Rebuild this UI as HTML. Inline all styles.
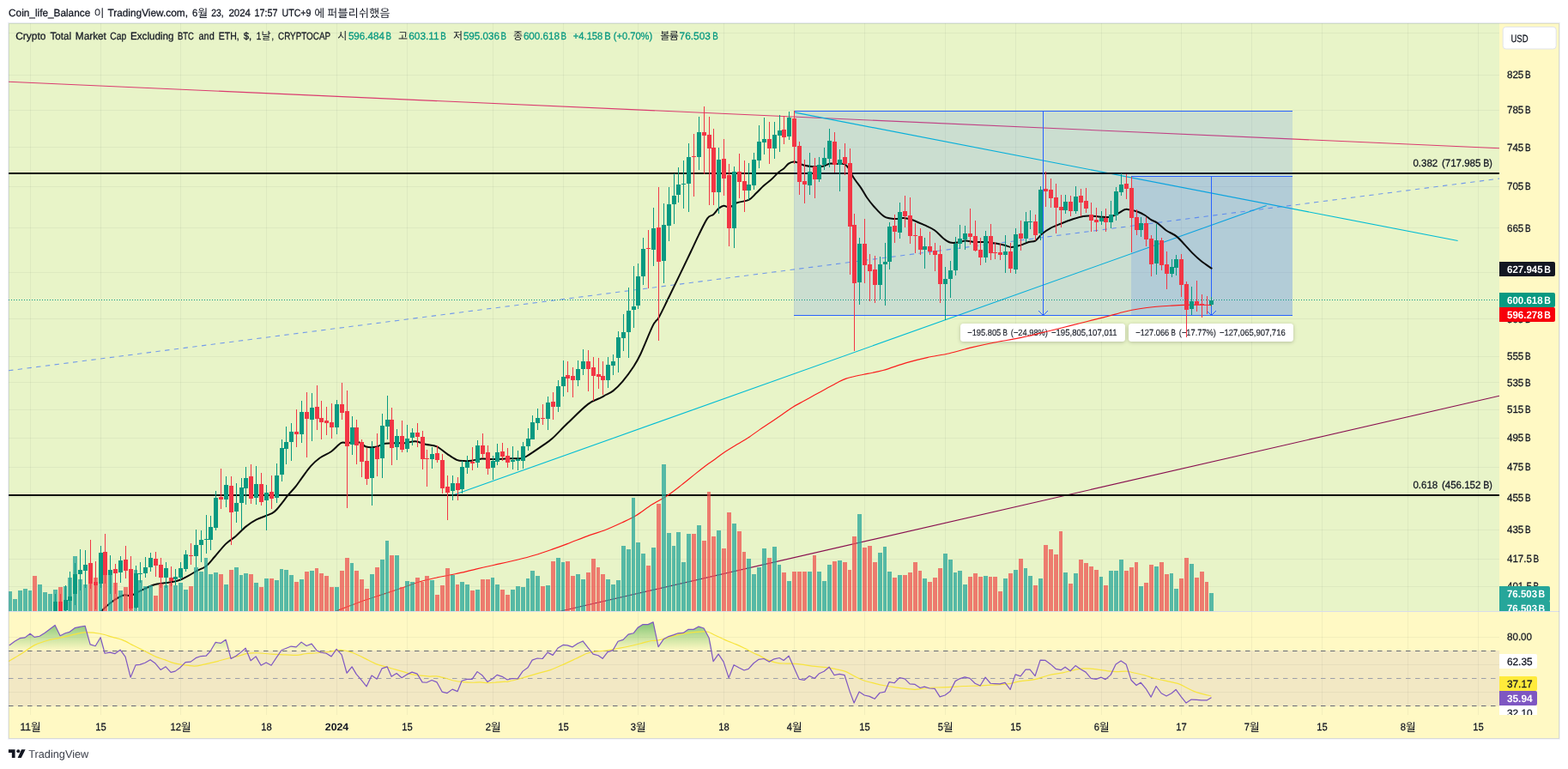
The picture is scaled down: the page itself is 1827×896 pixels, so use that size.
<!DOCTYPE html><html><head><meta charset="utf-8"><title>chart</title><style>html,body{margin:0;padding:0;background:#fff}svg{display:block;will-change:transform}text{font-family:"Liberation Sans", sans-serif;white-space:pre;text-rendering:geometricPrecision}text.k{font-family:"Liberation Sans", "Noto Sans CJK KR", sans-serif}</style></head><body>
<svg width="1827" height="896" viewBox="0 0 1827 896">
<defs>
<clipPath id="cm"><rect x="10" y="27" width="1737" height="685"/></clipPath>
<clipPath id="cr"><rect x="10" y="713" width="1737" height="120"/></clipPath>
<clipPath id="cs"><rect x="1747" y="27" width="70" height="685"/></clipPath>
<clipPath id="cs2"><rect x="1747" y="713" width="70" height="120"/></clipPath>
<linearGradient id="gob" x1="0" y1="710" x2="0" y2="758" gradientUnits="userSpaceOnUse"><stop offset="0" stop-color="#4caf50" stop-opacity="1"/><stop offset="1" stop-color="#4caf50" stop-opacity="0"/></linearGradient>
</defs>
<rect width="1827" height="896" fill="#fff"/>
<rect x="9" y="26" width="1808.8" height="835.5" fill="#eceef6"/>
<rect x="10" y="27" width="1806.7" height="833.3" fill="#fff9c4"/>
<rect x="10" y="27" width="1737" height="685" fill="#e8f4c8"/>
<g shape-rendering="crispEdges" fill="rgba(42,46,57,0.055)">
<rect x="35" y="27" width="1" height="685"/>
<rect x="35" y="713" width="1" height="120"/>
<rect x="117" y="27" width="1" height="685"/>
<rect x="117" y="713" width="1" height="120"/>
<rect x="210" y="27" width="1" height="685"/>
<rect x="210" y="713" width="1" height="120"/>
<rect x="310" y="27" width="1" height="685"/>
<rect x="310" y="713" width="1" height="120"/>
<rect x="392" y="27" width="1" height="685"/>
<rect x="392" y="713" width="1" height="120"/>
<rect x="474" y="27" width="1" height="685"/>
<rect x="474" y="713" width="1" height="120"/>
<rect x="574" y="27" width="1" height="685"/>
<rect x="574" y="713" width="1" height="120"/>
<rect x="656" y="27" width="1" height="685"/>
<rect x="656" y="713" width="1" height="120"/>
<rect x="743" y="27" width="1" height="685"/>
<rect x="743" y="713" width="1" height="120"/>
<rect x="843" y="27" width="1" height="685"/>
<rect x="843" y="713" width="1" height="120"/>
<rect x="925" y="27" width="1" height="685"/>
<rect x="925" y="713" width="1" height="120"/>
<rect x="1007" y="27" width="1" height="685"/>
<rect x="1007" y="713" width="1" height="120"/>
<rect x="1101" y="27" width="1" height="685"/>
<rect x="1101" y="713" width="1" height="120"/>
<rect x="1183" y="27" width="1" height="685"/>
<rect x="1183" y="713" width="1" height="120"/>
<rect x="1283" y="27" width="1" height="685"/>
<rect x="1283" y="713" width="1" height="120"/>
<rect x="1376" y="27" width="1" height="685"/>
<rect x="1376" y="713" width="1" height="120"/>
<rect x="1458" y="27" width="1" height="685"/>
<rect x="1458" y="713" width="1" height="120"/>
<rect x="1540" y="27" width="1" height="685"/>
<rect x="1540" y="713" width="1" height="120"/>
<rect x="1640" y="27" width="1" height="685"/>
<rect x="1640" y="713" width="1" height="120"/>
<rect x="1722" y="27" width="1" height="685"/>
<rect x="1722" y="713" width="1" height="120"/>
<rect x="10" y="38" width="1737" height="1"/>
<rect x="10" y="87" width="1737" height="1"/>
<rect x="10" y="128" width="1737" height="1"/>
<rect x="10" y="171" width="1737" height="1"/>
<rect x="10" y="217" width="1737" height="1"/>
<rect x="10" y="265" width="1737" height="1"/>
<rect x="10" y="317" width="1737" height="1"/>
<rect x="10" y="371" width="1737" height="1"/>
<rect x="10" y="415" width="1737" height="1"/>
<rect x="10" y="445" width="1737" height="1"/>
<rect x="10" y="477" width="1737" height="1"/>
<rect x="10" y="510" width="1737" height="1"/>
<rect x="10" y="544" width="1737" height="1"/>
<rect x="10" y="579" width="1737" height="1"/>
<rect x="10" y="617" width="1737" height="1"/>
<rect x="10" y="651" width="1737" height="1"/>
<rect x="10" y="683" width="1737" height="1"/>
<rect x="10" y="742" width="1737" height="1"/>
<rect x="10" y="774" width="1737" height="1"/>
<rect x="10" y="806" width="1737" height="1"/>
</g>
<g clip-path="url(#cm)">
<line x1="10" y1="95.3" x2="1747" y2="172.7" stroke="#d81b60" stroke-width="1.1" opacity="0.85"/>
<line x1="10" y1="431.8" x2="1747" y2="208.1" stroke="#2962ff" stroke-width="1.1" stroke-dasharray="5.4 5.4" opacity="0.6"/>
<line x1="653.4" y1="712" x2="1747" y2="461.3" stroke="#880e4f" stroke-width="1.1"/>
<line x1="527" y1="577.3" x2="1475.7" y2="239.5" stroke="#00bcd4" stroke-width="1.1"/>
<line x1="925.4" y1="130.9" x2="1698.6" y2="280.5" stroke="#00bcd4" stroke-width="1.1"/>
<rect x="10" y="201" width="1737" height="2" fill="#000" shape-rendering="crispEdges"/>
<rect x="10" y="576" width="1737" height="2" fill="#000" shape-rendering="crispEdges"/>
<text x="1646.4" y="193.9" font-size="12" fill="#131722" stroke="#131722" stroke-width="0.28" textLength="28.8" lengthAdjust="spacingAndGlyphs">0.382</text>
<text x="1680" y="193.9" font-size="12" fill="#131722" stroke="#131722" stroke-width="0.28" textLength="45.4" lengthAdjust="spacingAndGlyphs">(717.985</text>
<text x="1728.2" y="193.9" font-size="12" fill="#131722" stroke="#131722" stroke-width="0.28" textLength="10.6" lengthAdjust="spacingAndGlyphs">B)</text>
<text x="1646.4" y="568.9" font-size="12" fill="#131722" stroke="#131722" stroke-width="0.28" textLength="28.8" lengthAdjust="spacingAndGlyphs">0.618</text>
<text x="1680" y="568.9" font-size="12" fill="#131722" stroke="#131722" stroke-width="0.28" textLength="45.4" lengthAdjust="spacingAndGlyphs">(456.152</text>
<text x="1728.2" y="568.9" font-size="12" fill="#131722" stroke="#131722" stroke-width="0.28" textLength="10.6" lengthAdjust="spacingAndGlyphs">B)</text>
<rect x="925" y="129" width="581" height="239" fill="rgba(41,98,255,0.15)"/>
<rect x="1318" y="205" width="188" height="163" fill="rgba(41,98,255,0.15)"/>
<g shape-rendering="crispEdges" fill="#2962ff">
<rect x="925" y="129" width="581" height="1"/><rect x="925" y="367" width="581" height="1"/>
<rect x="1318" y="205" width="188" height="1"/>
<rect x="1215" y="129" width="1" height="239"/><rect x="1411" y="205" width="1" height="163"/>
</g>
<path d="M1210 362 L1215.5 367.5 L1221 362 M1406 362 L1411.5 367.5 L1417 362" fill="none" stroke="#2962ff" stroke-width="1"/>
<rect x="1119" y="377" width="192" height="21" rx="3.5" fill="#fff" style="filter:drop-shadow(0 1px 2px rgba(0,0,0,0.22))"/>
<text x="1127.2" y="391.3" font-size="10.4" fill="#131722" stroke="#131722" stroke-width="0.12" textLength="39.1" lengthAdjust="spacingAndGlyphs">−195.805</text>
<text x="1168.6" y="391.3" font-size="10.4" fill="#131722" stroke="#131722" stroke-width="0.12" textLength="5.4" lengthAdjust="spacingAndGlyphs">B</text>
<text x="1177.8" y="391.3" font-size="10.4" fill="#131722" stroke="#131722" stroke-width="0.12" textLength="43.1" lengthAdjust="spacingAndGlyphs">(−24.98%)</text>
<text x="1224.9" y="391.3" font-size="10.4" fill="#131722" stroke="#131722" stroke-width="0.12" textLength="76.8" lengthAdjust="spacingAndGlyphs">−195,805,107,011</text>
<rect x="1315" y="377" width="192" height="21" rx="3.5" fill="#fff" style="filter:drop-shadow(0 1px 2px rgba(0,0,0,0.22))"/>
<text x="1323.2" y="391.3" font-size="10.4" fill="#131722" stroke="#131722" stroke-width="0.12" textLength="39.1" lengthAdjust="spacingAndGlyphs">−127.066</text>
<text x="1364.6" y="391.3" font-size="10.4" fill="#131722" stroke="#131722" stroke-width="0.12" textLength="5.4" lengthAdjust="spacingAndGlyphs">B</text>
<text x="1373.8" y="391.3" font-size="10.4" fill="#131722" stroke="#131722" stroke-width="0.12" textLength="43.1" lengthAdjust="spacingAndGlyphs">(−17.77%)</text>
<text x="1420.9" y="391.3" font-size="10.4" fill="#131722" stroke="#131722" stroke-width="0.12" textLength="76.8" lengthAdjust="spacingAndGlyphs">−127,065,907,716</text>
<path d="M391.3 712.1 C396.17 710.25 411.33 704.28 420.5 701 C429.67 697.72 437.72 695.27 446.3 692.4 C454.88 689.53 464.85 686.23 472 683.8 C479.15 681.37 483.47 679.52 489.2 677.8 C494.93 676.08 499.53 675 506.4 673.5 C513.27 672 522.38 670.53 530.4 668.8 C538.42 667.07 547.05 664.82 554.5 663.1 C561.95 661.38 567.07 660.3 575.1 658.5 C583.13 656.7 594.67 654.25 602.7 652.3 C610.73 650.35 616.43 648.87 623.3 646.8 C630.17 644.73 637.6 642.1 643.9 639.9 C650.2 637.7 653.93 636.32 661.1 633.6 C668.27 630.88 679.75 626.2 686.9 623.6 C694.05 621 697.73 620.43 704 618 C710.27 615.57 718.33 611.87 724.5 609 C730.67 606.13 735.18 604.28 741 600.8 C746.82 597.32 753.25 592.03 759.4 588.1 C765.55 584.17 772.08 581.07 777.9 577.2 C783.72 573.33 788.82 569.17 794.3 564.9 C799.78 560.63 805.67 555.67 810.8 551.6 C815.93 547.53 821.62 543.1 825.1 540.5 C828.58 537.9 828.67 538.17 831.7 536 C834.73 533.83 838.78 530.53 843.3 527.5 C847.82 524.47 854.05 520.72 858.8 517.8 C863.55 514.88 867.48 512.82 871.8 510 C876.12 507.18 880.38 503.85 884.7 500.9 C889.02 497.95 893.38 495.2 897.7 492.3 C902.02 489.4 906.28 486.48 910.6 483.5 C914.92 480.52 919.28 477.1 923.6 474.4 C927.92 471.7 932.18 469.68 936.5 467.3 C940.82 464.92 945.18 462.48 949.5 460.1 C953.82 457.72 958.08 455.37 962.4 453 C966.72 450.63 971.5 447.88 975.4 445.9 C979.3 443.92 981.7 442.5 985.8 441.1 C989.9 439.7 996.57 438.3 1000 437.5 C1003.43 436.7 1001.6 437.3 1006.4 436.3 C1011.2 435.3 1020.48 433.78 1028.8 431.5 C1037.12 429.22 1047.72 425.08 1056.3 422.6 C1064.88 420.12 1072 418.42 1080.3 416.6 C1088.6 414.78 1097.5 413.65 1106.1 411.7 C1114.7 409.75 1123.3 406.98 1131.9 404.9 C1140.5 402.82 1149.1 400.92 1157.7 399.2 C1166.3 397.48 1176.45 395.95 1183.5 394.6 C1190.55 393.25 1196.4 391.88 1200 391.1 C1203.6 390.32 1201.43 390.8 1205.1 389.9 C1208.77 389 1216.17 387.15 1222 385.7 C1227.83 384.25 1234.27 382.65 1240.1 381.2 C1245.93 379.75 1251.15 378.47 1257 377 C1262.85 375.53 1269.25 373.9 1275.2 372.4 C1281.15 370.9 1286.87 369.52 1292.7 368 C1298.53 366.48 1304.37 364.67 1310.2 363.3 C1316.03 361.93 1321.87 360.77 1327.7 359.8 C1333.53 358.83 1339.37 358.08 1345.2 357.5 C1351.03 356.92 1356.85 356.65 1362.7 356.3 C1368.55 355.95 1374.08 355.58 1380.3 355.4 C1386.52 355.22 1394.8 355.17 1400 355.2 C1405.2 355.23 1409.58 355.53 1411.5 355.6" fill="none" stroke="#fa1c1c" stroke-width="1.15" stroke-linejoin="round" stroke-linecap="round"/>
<path d="M118 712.1 C119.72 710.53 124.87 705.42 128.3 702.7 C131.73 699.98 135.73 697.38 138.6 695.8 C141.47 694.22 143.2 693.48 145.5 693.2 C147.8 692.92 150.1 694.52 152.4 694.1 C154.7 693.68 156.43 692.13 159.3 690.7 C162.17 689.27 166.17 687.08 169.6 685.5 C173.03 683.92 176.47 682.2 179.9 681.2 C183.33 680.2 186.47 680.07 190.2 679.5 C193.93 678.93 198.85 678.52 202.3 677.8 C205.75 677.08 208.03 676.35 210.9 675.2 C213.77 674.05 216.35 672.62 219.5 670.9 C222.65 669.18 226.38 666.77 229.8 664.9 C233.22 663.03 236.58 662.43 240 659.7 C243.42 656.97 246.43 652.85 250.3 648.5 C254.17 644.15 259.18 637.52 263.2 633.6 C267.22 629.68 270.53 628.33 274.4 625 C278.27 621.67 282.4 616.83 286.4 613.6 C290.4 610.37 293.53 608.08 298.4 605.6 C303.27 603.12 311.58 600.72 315.6 598.7 C319.62 596.68 319.05 597.25 322.5 593.5 C325.95 589.75 332.57 580.72 336.3 576.2 C340.03 571.68 342.33 569.62 344.9 566.4 C347.47 563.18 348.83 560.78 351.7 556.9 C354.57 553.02 358.65 546.97 362.1 543.1 C365.55 539.23 368.4 536.55 372.4 533.7 C376.4 530.85 381.95 528.92 386.1 526 C390.25 523.08 394.28 517.83 397.3 516.2 C400.32 514.57 400.62 516.3 404.2 516.2 C407.78 516.1 415.08 514.88 418.8 515.6 C422.52 516.32 423.35 519.63 426.5 520.5 C429.65 521.37 433.97 521.42 437.7 520.8 C441.43 520.18 444.6 517.57 448.9 516.8 C453.2 516.03 459.65 516.3 463.5 516.2 C467.35 516.1 468.58 516.52 472 516.2 C475.42 515.88 479.98 514.05 484 514.3 C488.02 514.55 491.93 516.7 496.1 517.7 C500.27 518.7 504.85 518.43 509 520.3 C513.15 522.17 517.13 526.32 521 528.9 C524.87 531.48 528.9 534.43 532.2 535.8 C535.5 537.17 537.93 536.93 540.8 537.1 C543.67 537.27 545.97 537.22 549.4 536.8 C552.83 536.38 557.12 534.88 561.4 534.6 C565.68 534.32 569.95 535.17 575.1 535.1 C580.25 535.03 587.13 534.35 592.3 534.2 C597.47 534.05 602.65 534.57 606.1 534.2 C609.55 533.83 608.7 534.47 613 532 C617.3 529.53 626.75 522.98 631.9 519.4 C637.05 515.82 639.03 514.85 643.9 510.5 C648.77 506.15 654.22 499.9 661.1 493.3 C667.98 486.7 678.62 475.92 685.2 470.9 C691.78 465.88 697.13 465.02 700.6 463.2 C704.07 461.38 703.7 461.3 706 460 C708.3 458.7 711.15 458.02 714.4 455.4 C717.65 452.78 721.48 449.08 725.5 444.3 C729.52 439.52 735 432.05 738.5 426.7 C742 421.35 742.8 420.08 746.5 412.2 C750.2 404.32 757.18 386.45 760.7 379.4 C764.22 372.35 764.73 374.92 767.6 369.9 C770.47 364.88 774.17 356.88 777.9 349.3 C781.63 341.72 785.55 333.62 790 324.4 C794.45 315.18 800.6 302.38 804.6 294 C808.6 285.62 810.72 280.72 814 274.1 C817.28 267.48 821.43 258.32 824.3 254.3 C827.17 250.28 829.05 251.87 831.2 250 C833.35 248.13 835.2 244.82 837.2 243.1 C839.2 241.38 841.05 239.98 843.2 239.7 C845.35 239.42 847.52 241.97 850.1 241.4 C852.68 240.83 854.97 237.73 858.7 236.3 C862.43 234.87 868.77 234.67 872.5 232.8 C876.23 230.93 878.23 227.82 881.1 225.1 C883.97 222.38 886.83 219.08 889.7 216.5 C892.57 213.92 895.43 212.18 898.3 209.6 C901.17 207.02 904.33 203.28 906.9 201 C909.47 198.72 911.7 197.62 913.7 195.9 C915.7 194.18 917.03 191.92 918.9 190.7 C920.77 189.48 922.9 188.72 924.9 188.6 C926.9 188.48 928.95 189.35 930.9 190 C932.85 190.65 933.82 191.8 936.6 192.5 C939.38 193.2 943.9 194 947.6 194.2 C951.3 194.4 955.65 194.28 958.8 193.7 C961.95 193.12 963.92 191.13 966.5 190.7 C969.08 190.27 971.43 191.03 974.3 191.1 C977.17 191.17 981.27 190.25 983.7 191.1 C986.13 191.95 987.08 193.55 988.9 196.2 C990.72 198.85 992.17 203.13 994.6 207 C997.03 210.87 1000.93 215.57 1003.5 219.4 C1006.07 223.23 1007.52 226.45 1010 230 C1012.48 233.55 1014.98 236.97 1018.4 240.7 C1021.82 244.43 1026.48 250.02 1030.5 252.4 C1034.52 254.78 1038.78 254.73 1042.5 255 C1046.22 255.27 1049.37 253.8 1052.8 254 C1056.23 254.2 1059.08 254.83 1063.1 256.2 C1067.12 257.57 1072.6 260.2 1076.9 262.2 C1081.2 264.2 1085.18 265.62 1088.9 268.2 C1092.62 270.78 1096.18 275.32 1099.2 277.7 C1102.22 280.08 1104.13 281.7 1107 282.5 C1109.87 283.3 1113.4 282.82 1116.4 282.5 C1119.4 282.18 1121.85 280.68 1125 280.6 C1128.15 280.52 1131.57 281.77 1135.3 282 C1139.03 282.23 1143.67 281.78 1147.4 282 C1151.13 282.22 1153.98 282.73 1157.7 283.3 C1161.42 283.87 1166.27 284.62 1169.7 285.4 C1173.13 286.18 1175.15 287.92 1178.3 288 C1181.45 288.08 1185.22 286.9 1188.6 285.9 C1191.98 284.9 1195.65 282.88 1198.6 282 C1201.55 281.12 1203.72 282.18 1206.3 280.6 C1208.88 279.02 1211.08 275 1214.1 272.5 C1217.12 270 1220.68 267.6 1224.4 265.6 C1228.12 263.6 1232.1 262.22 1236.4 260.5 C1240.7 258.78 1245.9 256.73 1250.2 255.3 C1254.5 253.87 1258.77 252.53 1262.2 251.9 C1265.63 251.27 1267.37 251.37 1270.8 251.5 C1274.23 251.63 1279.08 252.5 1282.8 252.7 C1286.52 252.9 1289.95 253.27 1293.1 252.7 C1296.25 252.13 1298.83 250.72 1301.7 249.3 C1304.57 247.88 1308 245.05 1310.3 244.2 C1312.6 243.35 1312.92 243.78 1315.5 244.2 C1318.08 244.62 1322.65 245.57 1325.8 246.7 C1328.95 247.83 1331.82 249.42 1334.4 251 C1336.98 252.58 1339 254.77 1341.3 256.2 C1343.6 257.63 1345.33 257.6 1348.2 259.6 C1351.07 261.6 1354.78 265.62 1358.5 268.2 C1362.22 270.78 1367.07 272.52 1370.5 275.1 C1373.93 277.68 1375.95 280.4 1379.1 283.7 C1382.25 287 1385.97 291.47 1389.4 294.9 C1392.83 298.33 1396 301.35 1399.7 304.3 C1403.4 307.25 1409.62 311.22 1411.6 312.6" fill="none" stroke="#0c0c0c" stroke-width="2.0" stroke-linejoin="round" stroke-linecap="round"/>
<g shape-rendering="crispEdges">
<rect x="9" y="689" width="5" height="23" fill="rgba(38,166,154,0.75)"/>
<rect x="15" y="698" width="5" height="14" fill="rgba(38,166,154,0.75)"/>
<rect x="21" y="688" width="5" height="24" fill="rgba(38,166,154,0.75)"/>
<rect x="27" y="686" width="5" height="26" fill="rgba(38,166,154,0.75)"/>
<rect x="33" y="688" width="4" height="24" fill="rgba(38,166,154,0.75)"/>
<rect x="38" y="671" width="5" height="41" fill="rgba(239,83,80,0.75)"/>
<rect x="44" y="681" width="5" height="31" fill="rgba(38,166,154,0.75)"/>
<rect x="50" y="690" width="5" height="22" fill="rgba(38,166,154,0.75)"/>
<rect x="56" y="692" width="5" height="20" fill="rgba(38,166,154,0.75)"/>
<rect x="62" y="687" width="5" height="25" fill="rgba(38,166,154,0.75)"/>
<rect x="68" y="684" width="5" height="28" fill="rgba(239,83,80,0.75)"/>
<rect x="74" y="683" width="4" height="29" fill="rgba(38,166,154,0.75)"/>
<rect x="79" y="673" width="5" height="39" fill="rgba(38,166,154,0.75)"/>
<rect x="85" y="648" width="5" height="64" fill="rgba(38,166,154,0.75)"/>
<rect x="91" y="675" width="5" height="37" fill="rgba(38,166,154,0.75)"/>
<rect x="97" y="681" width="5" height="31" fill="rgba(38,166,154,0.75)"/>
<rect x="103" y="680" width="5" height="32" fill="rgba(239,83,80,0.75)"/>
<rect x="109" y="673" width="5" height="39" fill="rgba(239,83,80,0.75)"/>
<rect x="115" y="680" width="4" height="32" fill="rgba(38,166,154,0.75)"/>
<rect x="120" y="670" width="5" height="42" fill="rgba(239,83,80,0.75)"/>
<rect x="126" y="670" width="5" height="42" fill="rgba(38,166,154,0.75)"/>
<rect x="132" y="679" width="5" height="33" fill="rgba(239,83,80,0.75)"/>
<rect x="138" y="688" width="5" height="24" fill="rgba(38,166,154,0.75)"/>
<rect x="144" y="684" width="5" height="28" fill="rgba(239,83,80,0.75)"/>
<rect x="150" y="664" width="5" height="48" fill="rgba(239,83,80,0.75)"/>
<rect x="156" y="664" width="4" height="48" fill="rgba(38,166,154,0.75)"/>
<rect x="161" y="676" width="5" height="36" fill="rgba(38,166,154,0.75)"/>
<rect x="167" y="683" width="5" height="29" fill="rgba(38,166,154,0.75)"/>
<rect x="173" y="682" width="5" height="30" fill="rgba(38,166,154,0.75)"/>
<rect x="179" y="694" width="5" height="18" fill="rgba(239,83,80,0.75)"/>
<rect x="185" y="680" width="5" height="32" fill="rgba(239,83,80,0.75)"/>
<rect x="191" y="682" width="5" height="30" fill="rgba(38,166,154,0.75)"/>
<rect x="197" y="679" width="4" height="33" fill="rgba(239,83,80,0.75)"/>
<rect x="202" y="682" width="5" height="30" fill="rgba(38,166,154,0.75)"/>
<rect x="208" y="679" width="5" height="33" fill="rgba(38,166,154,0.75)"/>
<rect x="214" y="687" width="5" height="25" fill="rgba(38,166,154,0.75)"/>
<rect x="220" y="683" width="5" height="29" fill="rgba(239,83,80,0.75)"/>
<rect x="226" y="661" width="5" height="51" fill="rgba(38,166,154,0.75)"/>
<rect x="232" y="666" width="5" height="46" fill="rgba(38,166,154,0.75)"/>
<rect x="238" y="650" width="4" height="62" fill="rgba(38,166,154,0.75)"/>
<rect x="243" y="669" width="5" height="43" fill="rgba(38,166,154,0.75)"/>
<rect x="249" y="667" width="5" height="45" fill="rgba(38,166,154,0.75)"/>
<rect x="255" y="669" width="5" height="43" fill="rgba(239,83,80,0.75)"/>
<rect x="261" y="681" width="5" height="31" fill="rgba(38,166,154,0.75)"/>
<rect x="267" y="664" width="5" height="48" fill="rgba(239,83,80,0.75)"/>
<rect x="273" y="661" width="5" height="51" fill="rgba(38,166,154,0.75)"/>
<rect x="279" y="670" width="4" height="42" fill="rgba(38,166,154,0.75)"/>
<rect x="284" y="668" width="5" height="44" fill="rgba(38,166,154,0.75)"/>
<rect x="290" y="669" width="5" height="43" fill="rgba(239,83,80,0.75)"/>
<rect x="296" y="679" width="5" height="33" fill="rgba(38,166,154,0.75)"/>
<rect x="302" y="684" width="5" height="28" fill="rgba(239,83,80,0.75)"/>
<rect x="308" y="674" width="5" height="38" fill="rgba(38,166,154,0.75)"/>
<rect x="314" y="674" width="5" height="38" fill="rgba(239,83,80,0.75)"/>
<rect x="320" y="676" width="5" height="36" fill="rgba(38,166,154,0.75)"/>
<rect x="326" y="663" width="4" height="49" fill="rgba(38,166,154,0.75)"/>
<rect x="331" y="664" width="5" height="48" fill="rgba(38,166,154,0.75)"/>
<rect x="337" y="670" width="5" height="42" fill="rgba(38,166,154,0.75)"/>
<rect x="343" y="678" width="5" height="34" fill="rgba(239,83,80,0.75)"/>
<rect x="349" y="675" width="5" height="37" fill="rgba(38,166,154,0.75)"/>
<rect x="355" y="666" width="5" height="46" fill="rgba(239,83,80,0.75)"/>
<rect x="361" y="665" width="5" height="47" fill="rgba(38,166,154,0.75)"/>
<rect x="367" y="662" width="4" height="50" fill="rgba(239,83,80,0.75)"/>
<rect x="372" y="668" width="5" height="44" fill="rgba(239,83,80,0.75)"/>
<rect x="378" y="671" width="5" height="41" fill="rgba(239,83,80,0.75)"/>
<rect x="384" y="684" width="5" height="28" fill="rgba(239,83,80,0.75)"/>
<rect x="390" y="684" width="5" height="28" fill="rgba(38,166,154,0.75)"/>
<rect x="396" y="665" width="5" height="47" fill="rgba(239,83,80,0.75)"/>
<rect x="402" y="650" width="5" height="62" fill="rgba(239,83,80,0.75)"/>
<rect x="408" y="656" width="4" height="56" fill="rgba(38,166,154,0.75)"/>
<rect x="413" y="665" width="5" height="47" fill="rgba(239,83,80,0.75)"/>
<rect x="419" y="675" width="5" height="37" fill="rgba(239,83,80,0.75)"/>
<rect x="425" y="686" width="5" height="26" fill="rgba(239,83,80,0.75)"/>
<rect x="431" y="669" width="5" height="43" fill="rgba(38,166,154,0.75)"/>
<rect x="437" y="661" width="5" height="51" fill="rgba(239,83,80,0.75)"/>
<rect x="443" y="652" width="5" height="60" fill="rgba(38,166,154,0.75)"/>
<rect x="449" y="630" width="4" height="82" fill="rgba(38,166,154,0.75)"/>
<rect x="454" y="647" width="5" height="65" fill="rgba(239,83,80,0.75)"/>
<rect x="460" y="647" width="5" height="65" fill="rgba(38,166,154,0.75)"/>
<rect x="466" y="684" width="5" height="28" fill="rgba(239,83,80,0.75)"/>
<rect x="472" y="677" width="5" height="35" fill="rgba(38,166,154,0.75)"/>
<rect x="478" y="678" width="5" height="34" fill="rgba(38,166,154,0.75)"/>
<rect x="484" y="673" width="5" height="39" fill="rgba(239,83,80,0.75)"/>
<rect x="490" y="678" width="4" height="34" fill="rgba(239,83,80,0.75)"/>
<rect x="495" y="671" width="5" height="41" fill="rgba(239,83,80,0.75)"/>
<rect x="501" y="676" width="5" height="36" fill="rgba(38,166,154,0.75)"/>
<rect x="507" y="693" width="5" height="19" fill="rgba(239,83,80,0.75)"/>
<rect x="513" y="682" width="5" height="30" fill="rgba(239,83,80,0.75)"/>
<rect x="519" y="662" width="5" height="50" fill="rgba(239,83,80,0.75)"/>
<rect x="525" y="670" width="5" height="42" fill="rgba(38,166,154,0.75)"/>
<rect x="531" y="681" width="4" height="31" fill="rgba(239,83,80,0.75)"/>
<rect x="536" y="678" width="5" height="34" fill="rgba(38,166,154,0.75)"/>
<rect x="542" y="681" width="5" height="31" fill="rgba(38,166,154,0.75)"/>
<rect x="548" y="688" width="5" height="24" fill="rgba(239,83,80,0.75)"/>
<rect x="554" y="687" width="5" height="25" fill="rgba(38,166,154,0.75)"/>
<rect x="560" y="675" width="5" height="37" fill="rgba(239,83,80,0.75)"/>
<rect x="566" y="675" width="5" height="37" fill="rgba(239,83,80,0.75)"/>
<rect x="572" y="673" width="4" height="39" fill="rgba(38,166,154,0.75)"/>
<rect x="577" y="681" width="5" height="31" fill="rgba(38,166,154,0.75)"/>
<rect x="583" y="687" width="5" height="25" fill="rgba(239,83,80,0.75)"/>
<rect x="589" y="693" width="5" height="19" fill="rgba(239,83,80,0.75)"/>
<rect x="595" y="687" width="5" height="25" fill="rgba(38,166,154,0.75)"/>
<rect x="601" y="683" width="5" height="29" fill="rgba(38,166,154,0.75)"/>
<rect x="607" y="684" width="5" height="28" fill="rgba(38,166,154,0.75)"/>
<rect x="613" y="674" width="4" height="38" fill="rgba(38,166,154,0.75)"/>
<rect x="618" y="665" width="5" height="47" fill="rgba(38,166,154,0.75)"/>
<rect x="624" y="671" width="5" height="41" fill="rgba(38,166,154,0.75)"/>
<rect x="630" y="683" width="5" height="29" fill="rgba(239,83,80,0.75)"/>
<rect x="636" y="682" width="5" height="30" fill="rgba(38,166,154,0.75)"/>
<rect x="642" y="654" width="5" height="58" fill="rgba(239,83,80,0.75)"/>
<rect x="648" y="650" width="5" height="62" fill="rgba(38,166,154,0.75)"/>
<rect x="654" y="655" width="4" height="57" fill="rgba(38,166,154,0.75)"/>
<rect x="659" y="654" width="5" height="58" fill="rgba(239,83,80,0.75)"/>
<rect x="665" y="671" width="5" height="41" fill="rgba(239,83,80,0.75)"/>
<rect x="671" y="669" width="5" height="43" fill="rgba(38,166,154,0.75)"/>
<rect x="677" y="675" width="5" height="37" fill="rgba(38,166,154,0.75)"/>
<rect x="683" y="667" width="5" height="45" fill="rgba(239,83,80,0.75)"/>
<rect x="689" y="651" width="5" height="61" fill="rgba(239,83,80,0.75)"/>
<rect x="695" y="661" width="4" height="51" fill="rgba(239,83,80,0.75)"/>
<rect x="700" y="669" width="5" height="43" fill="rgba(239,83,80,0.75)"/>
<rect x="706" y="675" width="5" height="37" fill="rgba(38,166,154,0.75)"/>
<rect x="712" y="681" width="5" height="31" fill="rgba(38,166,154,0.75)"/>
<rect x="718" y="676" width="5" height="36" fill="rgba(38,166,154,0.75)"/>
<rect x="724" y="636" width="5" height="76" fill="rgba(38,166,154,0.75)"/>
<rect x="730" y="640" width="5" height="72" fill="rgba(38,166,154,0.75)"/>
<rect x="736" y="580" width="4" height="132" fill="rgba(38,166,154,0.75)"/>
<rect x="741" y="632" width="5" height="80" fill="rgba(38,166,154,0.75)"/>
<rect x="747" y="645" width="5" height="67" fill="rgba(38,166,154,0.75)"/>
<rect x="753" y="659" width="5" height="53" fill="rgba(239,83,80,0.75)"/>
<rect x="759" y="638" width="5" height="74" fill="rgba(38,166,154,0.75)"/>
<rect x="765" y="587" width="5" height="125" fill="rgba(239,83,80,0.75)"/>
<rect x="771" y="541" width="5" height="171" fill="rgba(38,166,154,0.75)"/>
<rect x="777" y="621" width="5" height="91" fill="rgba(38,166,154,0.75)"/>
<rect x="783" y="636" width="4" height="76" fill="rgba(38,166,154,0.75)"/>
<rect x="788" y="620" width="5" height="92" fill="rgba(38,166,154,0.75)"/>
<rect x="794" y="655" width="5" height="57" fill="rgba(38,166,154,0.75)"/>
<rect x="800" y="622" width="5" height="90" fill="rgba(38,166,154,0.75)"/>
<rect x="806" y="622" width="5" height="90" fill="rgba(239,83,80,0.75)"/>
<rect x="812" y="612" width="5" height="100" fill="rgba(38,166,154,0.75)"/>
<rect x="818" y="630" width="5" height="82" fill="rgba(239,83,80,0.75)"/>
<rect x="824" y="573" width="4" height="139" fill="rgba(239,83,80,0.75)"/>
<rect x="829" y="625" width="5" height="87" fill="rgba(239,83,80,0.75)"/>
<rect x="835" y="618" width="5" height="94" fill="rgba(38,166,154,0.75)"/>
<rect x="841" y="639" width="5" height="73" fill="rgba(239,83,80,0.75)"/>
<rect x="847" y="597" width="5" height="115" fill="rgba(239,83,80,0.75)"/>
<rect x="853" y="610" width="5" height="102" fill="rgba(38,166,154,0.75)"/>
<rect x="859" y="619" width="5" height="93" fill="rgba(239,83,80,0.75)"/>
<rect x="865" y="643" width="4" height="69" fill="rgba(239,83,80,0.75)"/>
<rect x="870" y="651" width="5" height="61" fill="rgba(38,166,154,0.75)"/>
<rect x="876" y="669" width="5" height="43" fill="rgba(38,166,154,0.75)"/>
<rect x="882" y="661" width="5" height="51" fill="rgba(38,166,154,0.75)"/>
<rect x="888" y="639" width="5" height="73" fill="rgba(38,166,154,0.75)"/>
<rect x="894" y="650" width="5" height="62" fill="rgba(239,83,80,0.75)"/>
<rect x="900" y="637" width="5" height="75" fill="rgba(38,166,154,0.75)"/>
<rect x="906" y="658" width="4" height="54" fill="rgba(38,166,154,0.75)"/>
<rect x="911" y="667" width="5" height="45" fill="rgba(239,83,80,0.75)"/>
<rect x="917" y="677" width="5" height="35" fill="rgba(38,166,154,0.75)"/>
<rect x="923" y="666" width="5" height="46" fill="rgba(239,83,80,0.75)"/>
<rect x="929" y="666" width="5" height="46" fill="rgba(239,83,80,0.75)"/>
<rect x="935" y="666" width="5" height="46" fill="rgba(239,83,80,0.75)"/>
<rect x="941" y="666" width="5" height="46" fill="rgba(38,166,154,0.75)"/>
<rect x="947" y="647" width="4" height="65" fill="rgba(239,83,80,0.75)"/>
<rect x="952" y="666" width="5" height="46" fill="rgba(38,166,154,0.75)"/>
<rect x="958" y="677" width="5" height="35" fill="rgba(38,166,154,0.75)"/>
<rect x="964" y="658" width="5" height="54" fill="rgba(38,166,154,0.75)"/>
<rect x="970" y="654" width="5" height="58" fill="rgba(239,83,80,0.75)"/>
<rect x="976" y="653" width="5" height="59" fill="rgba(38,166,154,0.75)"/>
<rect x="982" y="655" width="5" height="57" fill="rgba(239,83,80,0.75)"/>
<rect x="988" y="664" width="4" height="48" fill="rgba(239,83,80,0.75)"/>
<rect x="993" y="625" width="5" height="87" fill="rgba(239,83,80,0.75)"/>
<rect x="999" y="599" width="5" height="113" fill="rgba(38,166,154,0.75)"/>
<rect x="1005" y="638" width="5" height="74" fill="rgba(239,83,80,0.75)"/>
<rect x="1011" y="636" width="5" height="76" fill="rgba(239,83,80,0.75)"/>
<rect x="1017" y="655" width="5" height="57" fill="rgba(239,83,80,0.75)"/>
<rect x="1023" y="644" width="5" height="68" fill="rgba(38,166,154,0.75)"/>
<rect x="1029" y="637" width="4" height="75" fill="rgba(38,166,154,0.75)"/>
<rect x="1034" y="666" width="5" height="46" fill="rgba(38,166,154,0.75)"/>
<rect x="1040" y="673" width="5" height="39" fill="rgba(239,83,80,0.75)"/>
<rect x="1046" y="670" width="5" height="42" fill="rgba(38,166,154,0.75)"/>
<rect x="1052" y="670" width="5" height="42" fill="rgba(239,83,80,0.75)"/>
<rect x="1058" y="667" width="5" height="45" fill="rgba(239,83,80,0.75)"/>
<rect x="1064" y="655" width="5" height="57" fill="rgba(239,83,80,0.75)"/>
<rect x="1070" y="665" width="4" height="47" fill="rgba(239,83,80,0.75)"/>
<rect x="1075" y="674" width="5" height="38" fill="rgba(38,166,154,0.75)"/>
<rect x="1081" y="678" width="5" height="34" fill="rgba(239,83,80,0.75)"/>
<rect x="1087" y="673" width="5" height="39" fill="rgba(239,83,80,0.75)"/>
<rect x="1093" y="662" width="5" height="50" fill="rgba(239,83,80,0.75)"/>
<rect x="1099" y="645" width="5" height="67" fill="rgba(38,166,154,0.75)"/>
<rect x="1105" y="652" width="5" height="60" fill="rgba(38,166,154,0.75)"/>
<rect x="1111" y="667" width="4" height="45" fill="rgba(38,166,154,0.75)"/>
<rect x="1116" y="665" width="5" height="47" fill="rgba(38,166,154,0.75)"/>
<rect x="1122" y="681" width="5" height="31" fill="rgba(38,166,154,0.75)"/>
<rect x="1128" y="672" width="5" height="40" fill="rgba(239,83,80,0.75)"/>
<rect x="1134" y="668" width="5" height="44" fill="rgba(239,83,80,0.75)"/>
<rect x="1140" y="672" width="5" height="40" fill="rgba(239,83,80,0.75)"/>
<rect x="1146" y="671" width="5" height="41" fill="rgba(38,166,154,0.75)"/>
<rect x="1152" y="672" width="4" height="40" fill="rgba(239,83,80,0.75)"/>
<rect x="1157" y="672" width="5" height="40" fill="rgba(239,83,80,0.75)"/>
<rect x="1163" y="689" width="5" height="23" fill="rgba(239,83,80,0.75)"/>
<rect x="1169" y="674" width="5" height="38" fill="rgba(38,166,154,0.75)"/>
<rect x="1175" y="668" width="5" height="44" fill="rgba(239,83,80,0.75)"/>
<rect x="1181" y="664" width="5" height="48" fill="rgba(38,166,154,0.75)"/>
<rect x="1187" y="651" width="5" height="61" fill="rgba(239,83,80,0.75)"/>
<rect x="1193" y="662" width="4" height="50" fill="rgba(38,166,154,0.75)"/>
<rect x="1198" y="671" width="5" height="41" fill="rgba(38,166,154,0.75)"/>
<rect x="1204" y="682" width="5" height="30" fill="rgba(239,83,80,0.75)"/>
<rect x="1210" y="674" width="5" height="38" fill="rgba(38,166,154,0.75)"/>
<rect x="1216" y="635" width="5" height="77" fill="rgba(239,83,80,0.75)"/>
<rect x="1222" y="640" width="5" height="72" fill="rgba(239,83,80,0.75)"/>
<rect x="1228" y="646" width="5" height="66" fill="rgba(239,83,80,0.75)"/>
<rect x="1234" y="619" width="4" height="93" fill="rgba(239,83,80,0.75)"/>
<rect x="1239" y="667" width="5" height="45" fill="rgba(38,166,154,0.75)"/>
<rect x="1245" y="680" width="5" height="32" fill="rgba(239,83,80,0.75)"/>
<rect x="1251" y="668" width="5" height="44" fill="rgba(38,166,154,0.75)"/>
<rect x="1257" y="652" width="5" height="60" fill="rgba(239,83,80,0.75)"/>
<rect x="1263" y="656" width="5" height="56" fill="rgba(239,83,80,0.75)"/>
<rect x="1269" y="660" width="5" height="52" fill="rgba(239,83,80,0.75)"/>
<rect x="1275" y="664" width="5" height="48" fill="rgba(239,83,80,0.75)"/>
<rect x="1281" y="672" width="4" height="40" fill="rgba(38,166,154,0.75)"/>
<rect x="1286" y="682" width="5" height="30" fill="rgba(239,83,80,0.75)"/>
<rect x="1292" y="665" width="5" height="47" fill="rgba(38,166,154,0.75)"/>
<rect x="1298" y="665" width="5" height="47" fill="rgba(38,166,154,0.75)"/>
<rect x="1304" y="652" width="5" height="60" fill="rgba(38,166,154,0.75)"/>
<rect x="1310" y="665" width="5" height="47" fill="rgba(239,83,80,0.75)"/>
<rect x="1316" y="661" width="5" height="51" fill="rgba(239,83,80,0.75)"/>
<rect x="1322" y="655" width="4" height="57" fill="rgba(239,83,80,0.75)"/>
<rect x="1327" y="683" width="5" height="29" fill="rgba(38,166,154,0.75)"/>
<rect x="1333" y="679" width="5" height="33" fill="rgba(239,83,80,0.75)"/>
<rect x="1339" y="658" width="5" height="54" fill="rgba(239,83,80,0.75)"/>
<rect x="1345" y="660" width="5" height="52" fill="rgba(38,166,154,0.75)"/>
<rect x="1351" y="655" width="5" height="57" fill="rgba(239,83,80,0.75)"/>
<rect x="1357" y="669" width="5" height="43" fill="rgba(239,83,80,0.75)"/>
<rect x="1363" y="668" width="4" height="44" fill="rgba(38,166,154,0.75)"/>
<rect x="1368" y="686" width="5" height="26" fill="rgba(38,166,154,0.75)"/>
<rect x="1374" y="674" width="5" height="38" fill="rgba(239,83,80,0.75)"/>
<rect x="1380" y="650" width="5" height="62" fill="rgba(239,83,80,0.75)"/>
<rect x="1386" y="657" width="5" height="55" fill="rgba(38,166,154,0.75)"/>
<rect x="1392" y="673" width="5" height="39" fill="rgba(239,83,80,0.75)"/>
<rect x="1398" y="666" width="5" height="46" fill="rgba(239,83,80,0.75)"/>
<rect x="1404" y="678" width="4" height="34" fill="rgba(239,83,80,0.75)"/>
<rect x="1409" y="691" width="5" height="21" fill="rgba(38,166,154,0.75)"/>
</g>
<g shape-rendering="crispEdges">
<rect x="64" y="692" width="1" height="38" fill="#089981"/>
<rect x="62" y="701" width="5" height="24" fill="#089981"/>
<rect x="70" y="692" width="1" height="38" fill="#f23645"/>
<rect x="68" y="701" width="5" height="24" fill="#f23645"/>
<rect x="76" y="682" width="1" height="48" fill="#089981"/>
<rect x="74" y="699" width="5" height="12" fill="#089981"/>
<rect x="81" y="666" width="1" height="47" fill="#089981"/>
<rect x="79" y="695" width="5" height="5" fill="#089981"/>
<rect x="87" y="656" width="1" height="49" fill="#089981"/>
<rect x="85" y="669" width="5" height="23" fill="#089981"/>
<rect x="93" y="640" width="1" height="48" fill="#089981"/>
<rect x="91" y="664" width="5" height="5" fill="#089981"/>
<rect x="99" y="641" width="1" height="44" fill="#089981"/>
<rect x="97" y="658" width="5" height="7" fill="#089981"/>
<rect x="105" y="629" width="1" height="57" fill="#f23645"/>
<rect x="103" y="656" width="5" height="24" fill="#f23645"/>
<rect x="111" y="654" width="1" height="56" fill="#f23645"/>
<rect x="109" y="678" width="5" height="4" fill="#f23645"/>
<rect x="117" y="636" width="1" height="49" fill="#089981"/>
<rect x="115" y="644" width="5" height="36" fill="#089981"/>
<rect x="122" y="622" width="1" height="58" fill="#f23645"/>
<rect x="120" y="643" width="5" height="27" fill="#f23645"/>
<rect x="128" y="647" width="1" height="45" fill="#089981"/>
<rect x="126" y="664" width="5" height="6" fill="#089981"/>
<rect x="134" y="657" width="1" height="35" fill="#f23645"/>
<rect x="132" y="663" width="5" height="5" fill="#f23645"/>
<rect x="140" y="648" width="1" height="31" fill="#089981"/>
<rect x="138" y="653" width="5" height="14" fill="#089981"/>
<rect x="146" y="636" width="1" height="38" fill="#f23645"/>
<rect x="144" y="652" width="5" height="13" fill="#f23645"/>
<rect x="152" y="648" width="1" height="63" fill="#f23645"/>
<rect x="150" y="663" width="5" height="46" fill="#f23645"/>
<rect x="158" y="659" width="1" height="50" fill="#089981"/>
<rect x="156" y="668" width="5" height="40" fill="#089981"/>
<rect x="163" y="655" width="1" height="24" fill="#089981"/>
<rect x="161" y="668" width="5" height="1" fill="#089981"/>
<rect x="169" y="649" width="1" height="24" fill="#089981"/>
<rect x="167" y="661" width="5" height="7" fill="#089981"/>
<rect x="175" y="644" width="1" height="22" fill="#089981"/>
<rect x="173" y="650" width="5" height="11" fill="#089981"/>
<rect x="181" y="643" width="1" height="29" fill="#f23645"/>
<rect x="179" y="651" width="5" height="8" fill="#f23645"/>
<rect x="187" y="650" width="1" height="35" fill="#f23645"/>
<rect x="185" y="658" width="5" height="15" fill="#f23645"/>
<rect x="193" y="655" width="1" height="30" fill="#089981"/>
<rect x="191" y="662" width="5" height="11" fill="#089981"/>
<rect x="199" y="660" width="1" height="23" fill="#f23645"/>
<rect x="197" y="673" width="5" height="4" fill="#f23645"/>
<rect x="204" y="663" width="1" height="19" fill="#089981"/>
<rect x="202" y="672" width="5" height="3" fill="#089981"/>
<rect x="210" y="655" width="1" height="22" fill="#089981"/>
<rect x="208" y="662" width="5" height="11" fill="#089981"/>
<rect x="216" y="641" width="1" height="25" fill="#089981"/>
<rect x="214" y="646" width="5" height="17" fill="#089981"/>
<rect x="222" y="633" width="1" height="25" fill="#f23645"/>
<rect x="220" y="647" width="5" height="1" fill="#f23645"/>
<rect x="228" y="617" width="1" height="44" fill="#089981"/>
<rect x="226" y="635" width="5" height="13" fill="#089981"/>
<rect x="234" y="618" width="1" height="37" fill="#089981"/>
<rect x="232" y="629" width="5" height="6" fill="#089981"/>
<rect x="240" y="600" width="1" height="45" fill="#089981"/>
<rect x="238" y="628" width="5" height="1" fill="#089981"/>
<rect x="245" y="601" width="1" height="40" fill="#089981"/>
<rect x="243" y="614" width="5" height="15" fill="#089981"/>
<rect x="251" y="572" width="1" height="46" fill="#089981"/>
<rect x="249" y="580" width="5" height="35" fill="#089981"/>
<rect x="257" y="546" width="1" height="47" fill="#f23645"/>
<rect x="255" y="579" width="5" height="3" fill="#f23645"/>
<rect x="263" y="555" width="1" height="36" fill="#089981"/>
<rect x="261" y="565" width="5" height="17" fill="#089981"/>
<rect x="269" y="555" width="1" height="80" fill="#f23645"/>
<rect x="267" y="566" width="5" height="31" fill="#f23645"/>
<rect x="275" y="563" width="1" height="46" fill="#089981"/>
<rect x="273" y="586" width="5" height="10" fill="#089981"/>
<rect x="281" y="557" width="1" height="60" fill="#089981"/>
<rect x="279" y="568" width="5" height="18" fill="#089981"/>
<rect x="286" y="544" width="1" height="44" fill="#089981"/>
<rect x="284" y="557" width="5" height="12" fill="#089981"/>
<rect x="292" y="541" width="1" height="46" fill="#f23645"/>
<rect x="290" y="555" width="5" height="26" fill="#f23645"/>
<rect x="298" y="543" width="1" height="45" fill="#089981"/>
<rect x="296" y="564" width="5" height="16" fill="#089981"/>
<rect x="304" y="551" width="1" height="38" fill="#f23645"/>
<rect x="302" y="564" width="5" height="21" fill="#f23645"/>
<rect x="310" y="565" width="1" height="53" fill="#089981"/>
<rect x="308" y="574" width="5" height="9" fill="#089981"/>
<rect x="316" y="554" width="1" height="39" fill="#f23645"/>
<rect x="314" y="573" width="5" height="8" fill="#f23645"/>
<rect x="322" y="540" width="1" height="46" fill="#089981"/>
<rect x="320" y="554" width="5" height="26" fill="#089981"/>
<rect x="328" y="512" width="1" height="49" fill="#089981"/>
<rect x="326" y="522" width="5" height="31" fill="#089981"/>
<rect x="333" y="497" width="1" height="44" fill="#089981"/>
<rect x="331" y="515" width="5" height="8" fill="#089981"/>
<rect x="339" y="493" width="1" height="44" fill="#089981"/>
<rect x="337" y="503" width="5" height="12" fill="#089981"/>
<rect x="345" y="477" width="1" height="44" fill="#f23645"/>
<rect x="343" y="503" width="5" height="3" fill="#f23645"/>
<rect x="351" y="467" width="1" height="49" fill="#089981"/>
<rect x="349" y="480" width="5" height="26" fill="#089981"/>
<rect x="357" y="457" width="1" height="76" fill="#f23645"/>
<rect x="355" y="480" width="5" height="8" fill="#f23645"/>
<rect x="363" y="458" width="1" height="56" fill="#089981"/>
<rect x="361" y="475" width="5" height="14" fill="#089981"/>
<rect x="369" y="449" width="1" height="52" fill="#f23645"/>
<rect x="367" y="474" width="5" height="14" fill="#f23645"/>
<rect x="374" y="467" width="1" height="45" fill="#f23645"/>
<rect x="372" y="487" width="5" height="5" fill="#f23645"/>
<rect x="380" y="474" width="1" height="33" fill="#f23645"/>
<rect x="378" y="490" width="5" height="3" fill="#f23645"/>
<rect x="386" y="470" width="1" height="41" fill="#f23645"/>
<rect x="384" y="492" width="5" height="6" fill="#f23645"/>
<rect x="392" y="466" width="1" height="40" fill="#089981"/>
<rect x="390" y="471" width="5" height="27" fill="#089981"/>
<rect x="398" y="446" width="1" height="43" fill="#f23645"/>
<rect x="396" y="471" width="5" height="10" fill="#f23645"/>
<rect x="404" y="455" width="1" height="137" fill="#f23645"/>
<rect x="402" y="479" width="5" height="41" fill="#f23645"/>
<rect x="410" y="485" width="1" height="45" fill="#089981"/>
<rect x="408" y="498" width="5" height="20" fill="#089981"/>
<rect x="415" y="489" width="1" height="52" fill="#f23645"/>
<rect x="413" y="498" width="5" height="21" fill="#f23645"/>
<rect x="421" y="512" width="1" height="44" fill="#f23645"/>
<rect x="419" y="515" width="5" height="23" fill="#f23645"/>
<rect x="427" y="522" width="1" height="43" fill="#f23645"/>
<rect x="425" y="537" width="5" height="21" fill="#f23645"/>
<rect x="433" y="514" width="1" height="75" fill="#089981"/>
<rect x="431" y="522" width="5" height="35" fill="#089981"/>
<rect x="439" y="505" width="1" height="50" fill="#f23645"/>
<rect x="437" y="521" width="5" height="14" fill="#f23645"/>
<rect x="445" y="482" width="1" height="75" fill="#089981"/>
<rect x="443" y="496" width="5" height="38" fill="#089981"/>
<rect x="451" y="461" width="1" height="51" fill="#089981"/>
<rect x="449" y="489" width="5" height="8" fill="#089981"/>
<rect x="456" y="475" width="1" height="67" fill="#f23645"/>
<rect x="454" y="489" width="5" height="33" fill="#f23645"/>
<rect x="462" y="500" width="1" height="36" fill="#089981"/>
<rect x="460" y="508" width="5" height="13" fill="#089981"/>
<rect x="468" y="490" width="1" height="37" fill="#f23645"/>
<rect x="466" y="508" width="5" height="16" fill="#f23645"/>
<rect x="474" y="495" width="1" height="32" fill="#089981"/>
<rect x="472" y="511" width="5" height="12" fill="#089981"/>
<rect x="480" y="499" width="1" height="20" fill="#089981"/>
<rect x="478" y="504" width="5" height="6" fill="#089981"/>
<rect x="486" y="493" width="1" height="28" fill="#f23645"/>
<rect x="484" y="504" width="5" height="5" fill="#f23645"/>
<rect x="492" y="502" width="1" height="45" fill="#f23645"/>
<rect x="490" y="509" width="5" height="26" fill="#f23645"/>
<rect x="497" y="524" width="1" height="43" fill="#f23645"/>
<rect x="495" y="534" width="5" height="1" fill="#f23645"/>
<rect x="503" y="521" width="1" height="25" fill="#089981"/>
<rect x="501" y="529" width="5" height="6" fill="#089981"/>
<rect x="509" y="519" width="1" height="20" fill="#f23645"/>
<rect x="507" y="528" width="5" height="8" fill="#f23645"/>
<rect x="515" y="529" width="1" height="46" fill="#f23645"/>
<rect x="513" y="536" width="5" height="33" fill="#f23645"/>
<rect x="521" y="554" width="1" height="52" fill="#f23645"/>
<rect x="519" y="567" width="5" height="7" fill="#f23645"/>
<rect x="527" y="554" width="1" height="29" fill="#089981"/>
<rect x="525" y="563" width="5" height="9" fill="#089981"/>
<rect x="533" y="556" width="1" height="27" fill="#f23645"/>
<rect x="531" y="563" width="5" height="8" fill="#f23645"/>
<rect x="538" y="537" width="1" height="38" fill="#089981"/>
<rect x="536" y="544" width="5" height="26" fill="#089981"/>
<rect x="544" y="531" width="1" height="21" fill="#089981"/>
<rect x="542" y="538" width="5" height="7" fill="#089981"/>
<rect x="550" y="521" width="1" height="27" fill="#f23645"/>
<rect x="548" y="538" width="5" height="2" fill="#f23645"/>
<rect x="556" y="513" width="1" height="32" fill="#089981"/>
<rect x="554" y="519" width="5" height="20" fill="#089981"/>
<rect x="562" y="505" width="1" height="29" fill="#f23645"/>
<rect x="560" y="519" width="5" height="10" fill="#f23645"/>
<rect x="568" y="519" width="1" height="34" fill="#f23645"/>
<rect x="566" y="527" width="5" height="19" fill="#f23645"/>
<rect x="574" y="531" width="1" height="28" fill="#089981"/>
<rect x="572" y="537" width="5" height="8" fill="#089981"/>
<rect x="579" y="517" width="1" height="25" fill="#089981"/>
<rect x="577" y="527" width="5" height="11" fill="#089981"/>
<rect x="585" y="516" width="1" height="21" fill="#f23645"/>
<rect x="583" y="526" width="5" height="6" fill="#f23645"/>
<rect x="591" y="522" width="1" height="23" fill="#f23645"/>
<rect x="589" y="531" width="5" height="8" fill="#f23645"/>
<rect x="597" y="520" width="1" height="27" fill="#089981"/>
<rect x="595" y="536" width="5" height="2" fill="#089981"/>
<rect x="603" y="525" width="1" height="23" fill="#089981"/>
<rect x="601" y="535" width="5" height="2" fill="#089981"/>
<rect x="609" y="515" width="1" height="31" fill="#089981"/>
<rect x="607" y="520" width="5" height="17" fill="#089981"/>
<rect x="615" y="499" width="1" height="26" fill="#089981"/>
<rect x="613" y="511" width="5" height="9" fill="#089981"/>
<rect x="620" y="484" width="1" height="28" fill="#089981"/>
<rect x="618" y="492" width="5" height="20" fill="#089981"/>
<rect x="626" y="476" width="1" height="25" fill="#089981"/>
<rect x="624" y="487" width="5" height="6" fill="#089981"/>
<rect x="632" y="471" width="1" height="24" fill="#f23645"/>
<rect x="630" y="487" width="5" height="1" fill="#f23645"/>
<rect x="638" y="462" width="1" height="39" fill="#089981"/>
<rect x="636" y="469" width="5" height="19" fill="#089981"/>
<rect x="644" y="457" width="1" height="32" fill="#f23645"/>
<rect x="642" y="468" width="5" height="6" fill="#f23645"/>
<rect x="650" y="443" width="1" height="37" fill="#089981"/>
<rect x="648" y="450" width="5" height="24" fill="#089981"/>
<rect x="656" y="420" width="1" height="42" fill="#089981"/>
<rect x="654" y="439" width="5" height="11" fill="#089981"/>
<rect x="661" y="421" width="1" height="36" fill="#f23645"/>
<rect x="659" y="437" width="5" height="4" fill="#f23645"/>
<rect x="667" y="428" width="1" height="35" fill="#f23645"/>
<rect x="665" y="438" width="5" height="5" fill="#f23645"/>
<rect x="673" y="420" width="1" height="30" fill="#089981"/>
<rect x="671" y="430" width="5" height="13" fill="#089981"/>
<rect x="679" y="407" width="1" height="30" fill="#089981"/>
<rect x="677" y="421" width="5" height="9" fill="#089981"/>
<rect x="685" y="408" width="1" height="48" fill="#f23645"/>
<rect x="683" y="421" width="5" height="9" fill="#f23645"/>
<rect x="691" y="416" width="1" height="51" fill="#f23645"/>
<rect x="689" y="428" width="5" height="10" fill="#f23645"/>
<rect x="697" y="417" width="1" height="36" fill="#f23645"/>
<rect x="695" y="436" width="5" height="3" fill="#f23645"/>
<rect x="702" y="421" width="1" height="39" fill="#f23645"/>
<rect x="700" y="438" width="5" height="5" fill="#f23645"/>
<rect x="708" y="416" width="1" height="36" fill="#089981"/>
<rect x="706" y="425" width="5" height="18" fill="#089981"/>
<rect x="714" y="413" width="1" height="24" fill="#089981"/>
<rect x="712" y="421" width="5" height="5" fill="#089981"/>
<rect x="720" y="386" width="1" height="48" fill="#089981"/>
<rect x="718" y="393" width="5" height="24" fill="#089981"/>
<rect x="726" y="366" width="1" height="43" fill="#089981"/>
<rect x="724" y="387" width="5" height="7" fill="#089981"/>
<rect x="732" y="335" width="1" height="82" fill="#089981"/>
<rect x="730" y="362" width="5" height="25" fill="#089981"/>
<rect x="738" y="310" width="1" height="72" fill="#089981"/>
<rect x="736" y="357" width="5" height="4" fill="#089981"/>
<rect x="743" y="307" width="1" height="53" fill="#089981"/>
<rect x="741" y="322" width="5" height="34" fill="#089981"/>
<rect x="749" y="277" width="1" height="55" fill="#089981"/>
<rect x="747" y="290" width="5" height="32" fill="#089981"/>
<rect x="755" y="268" width="1" height="68" fill="#f23645"/>
<rect x="753" y="289" width="5" height="1" fill="#f23645"/>
<rect x="761" y="242" width="1" height="68" fill="#089981"/>
<rect x="759" y="266" width="5" height="25" fill="#089981"/>
<rect x="767" y="218" width="1" height="179" fill="#f23645"/>
<rect x="765" y="265" width="5" height="40" fill="#f23645"/>
<rect x="773" y="237" width="1" height="93" fill="#089981"/>
<rect x="771" y="262" width="5" height="42" fill="#089981"/>
<rect x="779" y="218" width="1" height="63" fill="#089981"/>
<rect x="777" y="238" width="5" height="25" fill="#089981"/>
<rect x="785" y="202" width="1" height="59" fill="#089981"/>
<rect x="783" y="228" width="5" height="10" fill="#089981"/>
<rect x="790" y="195" width="1" height="41" fill="#089981"/>
<rect x="788" y="215" width="5" height="12" fill="#089981"/>
<rect x="796" y="187" width="1" height="56" fill="#089981"/>
<rect x="794" y="214" width="5" height="1" fill="#089981"/>
<rect x="802" y="167" width="1" height="80" fill="#089981"/>
<rect x="800" y="183" width="5" height="31" fill="#089981"/>
<rect x="808" y="156" width="1" height="73" fill="#f23645"/>
<rect x="806" y="182" width="5" height="1" fill="#f23645"/>
<rect x="814" y="136" width="1" height="62" fill="#089981"/>
<rect x="812" y="154" width="5" height="29" fill="#089981"/>
<rect x="820" y="124" width="1" height="79" fill="#f23645"/>
<rect x="818" y="154" width="5" height="4" fill="#f23645"/>
<rect x="826" y="136" width="1" height="103" fill="#f23645"/>
<rect x="824" y="157" width="5" height="16" fill="#f23645"/>
<rect x="831" y="150" width="1" height="89" fill="#f23645"/>
<rect x="829" y="172" width="5" height="52" fill="#f23645"/>
<rect x="837" y="172" width="1" height="77" fill="#089981"/>
<rect x="835" y="186" width="5" height="38" fill="#089981"/>
<rect x="843" y="162" width="1" height="66" fill="#f23645"/>
<rect x="841" y="185" width="5" height="23" fill="#f23645"/>
<rect x="849" y="191" width="1" height="96" fill="#f23645"/>
<rect x="847" y="204" width="5" height="62" fill="#f23645"/>
<rect x="855" y="194" width="1" height="95" fill="#089981"/>
<rect x="853" y="200" width="5" height="66" fill="#089981"/>
<rect x="861" y="179" width="1" height="52" fill="#f23645"/>
<rect x="859" y="200" width="5" height="12" fill="#f23645"/>
<rect x="867" y="187" width="1" height="60" fill="#f23645"/>
<rect x="865" y="211" width="5" height="11" fill="#f23645"/>
<rect x="872" y="190" width="1" height="43" fill="#089981"/>
<rect x="870" y="215" width="5" height="7" fill="#089981"/>
<rect x="878" y="178" width="1" height="43" fill="#089981"/>
<rect x="876" y="186" width="5" height="30" fill="#089981"/>
<rect x="884" y="146" width="1" height="50" fill="#089981"/>
<rect x="882" y="165" width="5" height="22" fill="#089981"/>
<rect x="890" y="137" width="1" height="43" fill="#089981"/>
<rect x="888" y="162" width="5" height="4" fill="#089981"/>
<rect x="896" y="142" width="1" height="49" fill="#f23645"/>
<rect x="894" y="162" width="5" height="11" fill="#f23645"/>
<rect x="902" y="142" width="1" height="43" fill="#089981"/>
<rect x="900" y="157" width="5" height="16" fill="#089981"/>
<rect x="908" y="134" width="1" height="43" fill="#089981"/>
<rect x="906" y="152" width="5" height="6" fill="#089981"/>
<rect x="913" y="135" width="1" height="33" fill="#f23645"/>
<rect x="911" y="151" width="5" height="9" fill="#f23645"/>
<rect x="919" y="130" width="1" height="33" fill="#089981"/>
<rect x="917" y="137" width="5" height="22" fill="#089981"/>
<rect x="925" y="129" width="1" height="62" fill="#f23645"/>
<rect x="923" y="138" width="5" height="33" fill="#f23645"/>
<rect x="931" y="165" width="1" height="62" fill="#f23645"/>
<rect x="929" y="170" width="5" height="42" fill="#f23645"/>
<rect x="937" y="186" width="1" height="51" fill="#f23645"/>
<rect x="935" y="211" width="5" height="4" fill="#f23645"/>
<rect x="943" y="178" width="1" height="49" fill="#089981"/>
<rect x="941" y="200" width="5" height="16" fill="#089981"/>
<rect x="949" y="184" width="1" height="47" fill="#f23645"/>
<rect x="947" y="194" width="5" height="15" fill="#f23645"/>
<rect x="954" y="183" width="1" height="29" fill="#089981"/>
<rect x="952" y="192" width="5" height="17" fill="#089981"/>
<rect x="960" y="172" width="1" height="26" fill="#089981"/>
<rect x="958" y="184" width="5" height="8" fill="#089981"/>
<rect x="966" y="150" width="1" height="45" fill="#089981"/>
<rect x="964" y="164" width="5" height="21" fill="#089981"/>
<rect x="972" y="154" width="1" height="47" fill="#f23645"/>
<rect x="970" y="165" width="5" height="27" fill="#f23645"/>
<rect x="978" y="174" width="1" height="49" fill="#089981"/>
<rect x="976" y="186" width="5" height="6" fill="#089981"/>
<rect x="984" y="167" width="1" height="37" fill="#f23645"/>
<rect x="982" y="183" width="5" height="8" fill="#f23645"/>
<rect x="990" y="173" width="1" height="147" fill="#f23645"/>
<rect x="988" y="190" width="5" height="74" fill="#f23645"/>
<rect x="995" y="249" width="1" height="160" fill="#f23645"/>
<rect x="993" y="262" width="5" height="68" fill="#f23645"/>
<rect x="1001" y="277" width="1" height="78" fill="#089981"/>
<rect x="999" y="284" width="5" height="45" fill="#089981"/>
<rect x="1007" y="255" width="1" height="75" fill="#f23645"/>
<rect x="1005" y="284" width="5" height="25" fill="#f23645"/>
<rect x="1013" y="296" width="1" height="55" fill="#f23645"/>
<rect x="1011" y="308" width="5" height="8" fill="#f23645"/>
<rect x="1019" y="298" width="1" height="55" fill="#f23645"/>
<rect x="1017" y="314" width="5" height="18" fill="#f23645"/>
<rect x="1025" y="299" width="1" height="50" fill="#089981"/>
<rect x="1023" y="308" width="5" height="24" fill="#089981"/>
<rect x="1031" y="283" width="1" height="73" fill="#089981"/>
<rect x="1029" y="305" width="5" height="3" fill="#089981"/>
<rect x="1036" y="259" width="1" height="55" fill="#089981"/>
<rect x="1034" y="264" width="5" height="41" fill="#089981"/>
<rect x="1042" y="250" width="1" height="33" fill="#f23645"/>
<rect x="1040" y="263" width="5" height="7" fill="#f23645"/>
<rect x="1048" y="236" width="1" height="42" fill="#089981"/>
<rect x="1046" y="247" width="5" height="24" fill="#089981"/>
<rect x="1054" y="228" width="1" height="37" fill="#f23645"/>
<rect x="1052" y="246" width="5" height="6" fill="#f23645"/>
<rect x="1060" y="230" width="1" height="54" fill="#f23645"/>
<rect x="1058" y="251" width="5" height="24" fill="#f23645"/>
<rect x="1066" y="260" width="1" height="35" fill="#f23645"/>
<rect x="1064" y="274" width="5" height="1" fill="#f23645"/>
<rect x="1072" y="266" width="1" height="31" fill="#f23645"/>
<rect x="1070" y="275" width="5" height="16" fill="#f23645"/>
<rect x="1077" y="277" width="1" height="36" fill="#089981"/>
<rect x="1075" y="287" width="5" height="4" fill="#089981"/>
<rect x="1083" y="270" width="1" height="27" fill="#f23645"/>
<rect x="1081" y="287" width="5" height="6" fill="#f23645"/>
<rect x="1089" y="283" width="1" height="33" fill="#f23645"/>
<rect x="1087" y="292" width="5" height="5" fill="#f23645"/>
<rect x="1095" y="286" width="1" height="67" fill="#f23645"/>
<rect x="1093" y="296" width="5" height="35" fill="#f23645"/>
<rect x="1101" y="311" width="1" height="62" fill="#089981"/>
<rect x="1099" y="325" width="5" height="6" fill="#089981"/>
<rect x="1107" y="304" width="1" height="43" fill="#089981"/>
<rect x="1105" y="315" width="5" height="10" fill="#089981"/>
<rect x="1113" y="276" width="1" height="45" fill="#089981"/>
<rect x="1111" y="284" width="5" height="31" fill="#089981"/>
<rect x="1118" y="262" width="1" height="28" fill="#089981"/>
<rect x="1116" y="278" width="5" height="6" fill="#089981"/>
<rect x="1124" y="263" width="1" height="28" fill="#089981"/>
<rect x="1122" y="272" width="5" height="7" fill="#089981"/>
<rect x="1130" y="243" width="1" height="42" fill="#f23645"/>
<rect x="1128" y="272" width="5" height="4" fill="#f23645"/>
<rect x="1136" y="257" width="1" height="36" fill="#f23645"/>
<rect x="1134" y="275" width="5" height="17" fill="#f23645"/>
<rect x="1142" y="277" width="1" height="32" fill="#f23645"/>
<rect x="1140" y="291" width="5" height="9" fill="#f23645"/>
<rect x="1148" y="269" width="1" height="37" fill="#089981"/>
<rect x="1146" y="275" width="5" height="25" fill="#089981"/>
<rect x="1154" y="261" width="1" height="42" fill="#f23645"/>
<rect x="1152" y="275" width="5" height="20" fill="#f23645"/>
<rect x="1159" y="282" width="1" height="20" fill="#f23645"/>
<rect x="1157" y="294" width="5" height="1" fill="#f23645"/>
<rect x="1165" y="284" width="1" height="19" fill="#f23645"/>
<rect x="1163" y="294" width="5" height="3" fill="#f23645"/>
<rect x="1171" y="274" width="1" height="44" fill="#089981"/>
<rect x="1169" y="293" width="5" height="4" fill="#089981"/>
<rect x="1177" y="283" width="1" height="35" fill="#f23645"/>
<rect x="1175" y="293" width="5" height="20" fill="#f23645"/>
<rect x="1183" y="266" width="1" height="53" fill="#089981"/>
<rect x="1181" y="273" width="5" height="41" fill="#089981"/>
<rect x="1189" y="257" width="1" height="35" fill="#f23645"/>
<rect x="1187" y="272" width="5" height="6" fill="#f23645"/>
<rect x="1195" y="247" width="1" height="35" fill="#089981"/>
<rect x="1193" y="258" width="5" height="20" fill="#089981"/>
<rect x="1200" y="245" width="1" height="22" fill="#089981"/>
<rect x="1198" y="258" width="5" height="1" fill="#089981"/>
<rect x="1206" y="250" width="1" height="30" fill="#f23645"/>
<rect x="1204" y="258" width="5" height="16" fill="#f23645"/>
<rect x="1212" y="217" width="1" height="63" fill="#089981"/>
<rect x="1210" y="221" width="5" height="51" fill="#089981"/>
<rect x="1218" y="200" width="1" height="41" fill="#f23645"/>
<rect x="1216" y="220" width="5" height="3" fill="#f23645"/>
<rect x="1224" y="208" width="1" height="34" fill="#f23645"/>
<rect x="1222" y="221" width="5" height="10" fill="#f23645"/>
<rect x="1230" y="214" width="1" height="58" fill="#f23645"/>
<rect x="1228" y="230" width="5" height="12" fill="#f23645"/>
<rect x="1236" y="227" width="1" height="38" fill="#f23645"/>
<rect x="1234" y="241" width="5" height="4" fill="#f23645"/>
<rect x="1241" y="227" width="1" height="22" fill="#089981"/>
<rect x="1239" y="235" width="5" height="10" fill="#089981"/>
<rect x="1247" y="228" width="1" height="24" fill="#f23645"/>
<rect x="1245" y="235" width="5" height="11" fill="#f23645"/>
<rect x="1253" y="217" width="1" height="32" fill="#089981"/>
<rect x="1251" y="229" width="5" height="17" fill="#089981"/>
<rect x="1259" y="220" width="1" height="32" fill="#f23645"/>
<rect x="1257" y="228" width="5" height="8" fill="#f23645"/>
<rect x="1265" y="219" width="1" height="29" fill="#f23645"/>
<rect x="1263" y="234" width="5" height="9" fill="#f23645"/>
<rect x="1271" y="236" width="1" height="34" fill="#f23645"/>
<rect x="1269" y="250" width="5" height="7" fill="#f23645"/>
<rect x="1277" y="242" width="1" height="28" fill="#f23645"/>
<rect x="1275" y="256" width="5" height="3" fill="#f23645"/>
<rect x="1283" y="246" width="1" height="16" fill="#089981"/>
<rect x="1281" y="254" width="5" height="4" fill="#089981"/>
<rect x="1288" y="243" width="1" height="27" fill="#f23645"/>
<rect x="1286" y="254" width="5" height="5" fill="#f23645"/>
<rect x="1294" y="234" width="1" height="32" fill="#089981"/>
<rect x="1292" y="250" width="5" height="9" fill="#089981"/>
<rect x="1300" y="218" width="1" height="39" fill="#089981"/>
<rect x="1298" y="223" width="5" height="28" fill="#089981"/>
<rect x="1306" y="202" width="1" height="26" fill="#089981"/>
<rect x="1304" y="215" width="5" height="9" fill="#089981"/>
<rect x="1312" y="203" width="1" height="29" fill="#f23645"/>
<rect x="1310" y="214" width="5" height="6" fill="#f23645"/>
<rect x="1318" y="206" width="1" height="88" fill="#f23645"/>
<rect x="1316" y="219" width="5" height="35" fill="#f23645"/>
<rect x="1324" y="244" width="1" height="30" fill="#f23645"/>
<rect x="1322" y="253" width="5" height="15" fill="#f23645"/>
<rect x="1329" y="253" width="1" height="23" fill="#089981"/>
<rect x="1327" y="260" width="5" height="8" fill="#089981"/>
<rect x="1335" y="253" width="1" height="34" fill="#f23645"/>
<rect x="1333" y="260" width="5" height="19" fill="#f23645"/>
<rect x="1341" y="274" width="1" height="48" fill="#f23645"/>
<rect x="1339" y="278" width="5" height="30" fill="#f23645"/>
<rect x="1347" y="261" width="1" height="59" fill="#089981"/>
<rect x="1345" y="280" width="5" height="27" fill="#089981"/>
<rect x="1353" y="277" width="1" height="38" fill="#f23645"/>
<rect x="1351" y="280" width="5" height="29" fill="#f23645"/>
<rect x="1359" y="293" width="1" height="44" fill="#f23645"/>
<rect x="1357" y="308" width="5" height="11" fill="#f23645"/>
<rect x="1365" y="302" width="1" height="21" fill="#089981"/>
<rect x="1363" y="311" width="5" height="8" fill="#089981"/>
<rect x="1370" y="297" width="1" height="24" fill="#089981"/>
<rect x="1368" y="302" width="5" height="10" fill="#089981"/>
<rect x="1376" y="296" width="1" height="50" fill="#f23645"/>
<rect x="1374" y="302" width="5" height="30" fill="#f23645"/>
<rect x="1382" y="328" width="1" height="65" fill="#f23645"/>
<rect x="1380" y="331" width="5" height="30" fill="#f23645"/>
<rect x="1388" y="334" width="1" height="33" fill="#089981"/>
<rect x="1386" y="351" width="5" height="9" fill="#089981"/>
<rect x="1394" y="327" width="1" height="36" fill="#f23645"/>
<rect x="1392" y="351" width="5" height="5" fill="#f23645"/>
<rect x="1400" y="343" width="1" height="27" fill="#f23645"/>
<rect x="1398" y="354" width="5" height="2" fill="#f23645"/>
<rect x="1406" y="345" width="1" height="21" fill="#f23645"/>
<rect x="1404" y="355" width="5" height="1" fill="#f23645"/>
<rect x="1411" y="346" width="1" height="11" fill="#089981"/>
<rect x="1409" y="350" width="5" height="5" fill="#089981"/>
</g>
<line x1="10" y1="349.5" x2="1747" y2="349.5" stroke="#089981" stroke-width="1" stroke-dasharray="1 2"/>
</g>
<g clip-path="url(#cr)">
<rect x="10" y="758" width="1737" height="65" fill="rgba(126,87,194,0.1)"/>
<path d="M11.1 758.5 L11.1 751.74 L17.1 747.3 L23.1 743.69 L29.1 742.87 L35.1 738.27 L40.1 742.38 L46.1 741.23 L52.1 737.45 L58.1 733.02 L64.1 728.42 L70.1 740.74 L76.1 737.78 L81.1 736.3 L87.1 731.7 L93.1 730.39 L99.1 729.24 L105.1 750.92 L111.1 752.72 L117.1 742.71 L122.1 758.5 L128.1 758.5 L134.1 758.5 L140.1 757.16 L146.1 758.5 L152.1 758.5 L158.1 758.5 L163.1 758.5 L169.1 758.5 L175.1 758.5 L181.1 758.5 L187.1 758.5 L193.1 758.5 L199.1 758.5 L204.1 758.5 L210.1 758.5 L216.1 758.5 L222.1 758.5 L228.1 758.5 L234.1 758.5 L240.1 758.5 L245.1 758.5 L251.1 748.45 L257.1 749.44 L263.1 745.33 L269.1 758.5 L275.1 758.5 L281.1 758.5 L286.1 755.19 L292.1 758.5 L298.1 758.5 L304.1 758.5 L310.1 758.5 L316.1 758.5 L322.1 758.5 L328.1 757.48 L333.1 755.51 L339.1 753.05 L345.1 753.87 L351.1 748.12 L357.1 752.56 L363.1 750.1 L369.1 757.98 L374.1 758.5 L380.1 758.5 L386.1 758.5 L392.1 756.33 L398.1 758.5 L404.1 758.5 L410.1 758.5 L415.1 758.5 L421.1 758.5 L427.1 758.5 L433.1 758.5 L439.1 758.5 L445.1 758.5 L451.1 758.5 L456.1 758.5 L462.1 758.5 L468.1 758.5 L474.1 758.5 L480.1 758.5 L486.1 758.5 L492.1 758.5 L497.1 758.5 L503.1 758.5 L509.1 758.5 L515.1 758.5 L521.1 758.5 L527.1 758.5 L533.1 758.5 L538.1 758.5 L544.1 758.5 L550.1 758.5 L556.1 758.5 L562.1 758.5 L568.1 758.5 L574.1 758.5 L579.1 758.5 L585.1 758.5 L591.1 758.5 L597.1 758.5 L603.1 758.5 L609.1 758.5 L615.1 758.5 L620.1 758.5 L626.1 758.5 L632.1 758.5 L638.1 758.5 L644.1 758.5 L650.1 755.02 L656.1 751.41 L661.1 751.9 L667.1 753.87 L673.1 749.77 L679.1 746.98 L685.1 754.69 L691.1 758.5 L697.1 758.5 L702.1 758.5 L708.1 758.5 L714.1 757.65 L720.1 747.3 L726.1 745.33 L732.1 739.09 L738.1 737.78 L743.1 731.38 L749.1 727.6 L755.1 727.6 L761.1 724.81 L767.1 753.54 L773.1 744.84 L779.1 741.56 L785.1 739.59 L790.1 737.78 L796.1 737.45 L802.1 733.35 L808.1 733.35 L814.1 730.06 L820.1 732.03 L826.1 743.2 L831.1 758.5 L837.1 758.5 L843.1 758.5 L849.1 758.5 L855.1 758.5 L861.1 758.5 L867.1 758.5 L872.1 758.5 L878.1 758.5 L884.1 758.5 L890.1 758.5 L896.1 758.5 L902.1 758.5 L908.1 758.5 L913.1 758.5 L919.1 758.5 L925.1 758.5 L931.1 758.5 L937.1 758.5 L943.1 758.5 L949.1 758.5 L954.1 758.5 L960.1 758.5 L966.1 758.5 L972.1 758.5 L978.1 758.5 L984.1 758.5 L990.1 758.5 L995.1 758.5 L1001.1 758.5 L1007.1 758.5 L1013.1 758.5 L1019.1 758.5 L1025.1 758.5 L1031.1 758.5 L1036.1 758.5 L1042.1 758.5 L1048.1 758.5 L1054.1 758.5 L1060.1 758.5 L1066.1 758.5 L1072.1 758.5 L1077.1 758.5 L1083.1 758.5 L1089.1 758.5 L1095.1 758.5 L1101.1 758.5 L1107.1 758.5 L1113.1 758.5 L1118.1 758.5 L1124.1 758.5 L1130.1 758.5 L1136.1 758.5 L1142.1 758.5 L1148.1 758.5 L1154.1 758.5 L1159.1 758.5 L1165.1 758.5 L1171.1 758.5 L1177.1 758.5 L1183.1 758.5 L1189.1 758.5 L1195.1 758.5 L1200.1 758.5 L1206.1 758.5 L1212.1 758.5 L1218.1 758.5 L1224.1 758.5 L1230.1 758.5 L1236.1 758.5 L1241.1 758.5 L1247.1 758.5 L1253.1 758.5 L1259.1 758.5 L1265.1 758.5 L1271.1 758.5 L1277.1 758.5 L1283.1 758.5 L1288.1 758.5 L1294.1 758.5 L1300.1 758.5 L1306.1 758.5 L1312.1 758.5 L1318.1 758.5 L1324.1 758.5 L1329.1 758.5 L1335.1 758.5 L1341.1 758.5 L1347.1 758.5 L1353.1 758.5 L1359.1 758.5 L1365.1 758.5 L1370.1 758.5 L1376.1 758.5 L1382.1 758.5 L1388.1 758.5 L1394.1 758.5 L1400.1 758.5 L1406.1 758.5 L1411.1 758.5 L1411.1 758.5 Z" fill="url(#gob)"/>
<line x1="10" y1="758.5" x2="1747" y2="758.5" stroke="#666974" stroke-width="1" stroke-dasharray="5.5 5.5"/>
<line x1="10" y1="790.5" x2="1747" y2="790.5" stroke="#9c9fa8" stroke-width="1" stroke-dasharray="5.5 5.5"/>
<line x1="10" y1="822.5" x2="1747" y2="822.5" stroke="#666974" stroke-width="1" stroke-dasharray="5.5 5.5"/>
<path d="M10.46 770.29 C12.79 768.92 19.36 765.23 24.42 762.08 C29.48 758.93 35.37 754.15 40.84 751.41 C46.31 748.67 51.79 747.17 57.26 745.66 C62.73 744.16 68.76 743.47 73.68 742.38 C78.61 741.28 82.71 740 86.82 739.09 C90.92 738.19 93.39 737.1 98.31 736.96 C103.24 736.82 110.9 737.37 116.37 738.27 C121.85 739.18 126.77 741.15 131.15 742.38 C135.53 743.61 138.54 744.02 142.65 745.66 C146.75 747.3 151.4 750.04 155.78 752.23 C160.16 754.42 164.54 756.61 168.92 758.8 C173.3 760.99 178.22 763.72 182.06 765.37 C185.89 767.01 188.62 767.47 191.91 768.65 C195.19 769.83 198.48 771.47 201.76 772.43 C205.04 773.38 207.51 773.8 211.61 774.4 C215.72 775 222.01 776.09 226.39 776.04 C230.77 775.98 233.78 774.89 237.89 774.07 C241.99 773.25 246.64 772.21 251.02 771.11 C255.4 770.02 259.78 768.6 264.16 767.5 C268.54 766.41 273.46 765.53 277.29 764.55 C281.13 763.56 283.86 762.22 287.15 761.59 C290.43 760.96 294.86 760.91 297 760.77 C299.14 760.63 296.76 760.55 300 760.77 C303.24 760.99 310.95 761.73 316.42 762.08 C321.89 762.44 327.91 762.68 332.84 762.9 C337.77 763.12 342.15 763.59 345.98 763.4 C349.81 763.2 352 762.19 355.83 761.75 C359.66 761.32 364.59 761.12 368.97 760.77 C373.34 760.41 378.27 760.08 382.1 759.62 C385.93 759.15 389.22 758.33 391.95 757.98 C394.69 757.62 395.79 757.21 398.52 757.48 C401.26 757.76 405.09 758.58 408.37 759.62 C411.66 760.66 414.94 762.22 418.23 763.72 C421.51 765.23 424.52 766.93 428.08 768.65 C431.64 770.37 435.74 772.62 439.57 774.07 C443.4 775.52 447.51 776.34 451.07 777.35 C454.63 778.37 457.64 779.21 460.92 780.14 C464.2 781.07 467.49 781.98 470.77 782.94 C474.06 783.89 477.34 785.18 480.62 785.89 C483.91 786.6 487.19 786.85 490.48 787.21 C493.76 787.56 497.32 787.92 500.33 788.03 C503.34 788.14 505.53 787.53 508.54 787.86 C511.55 788.19 514.83 789.09 518.39 790 C521.95 790.9 526.33 792.51 529.89 793.28 C533.44 794.05 536.45 794.27 539.74 794.59 C543.02 794.92 546.31 795.2 549.59 795.25 C552.87 795.31 556.16 794.84 559.44 794.92 C562.73 795 566.01 795.74 569.29 795.74 C572.58 795.74 575.86 795.2 579.15 794.92 C582.43 794.65 586.86 794.24 589 794.1 C591.14 793.96 588.76 794.79 592 794.1 C595.24 793.42 602.95 791.5 608.42 790 C613.89 788.49 619.37 786.63 624.84 785.07 C630.31 783.51 635.79 782.55 641.26 780.64 C646.73 778.72 652.76 775.77 657.68 773.58 C662.61 771.39 666.44 769.55 670.82 767.5 C675.2 765.45 680.12 762.66 683.95 761.26 C687.79 759.87 689.97 759.67 693.81 759.13 C697.64 758.58 702.56 758.58 706.94 757.98 C711.32 757.37 715.15 756.47 720.08 755.51 C725 754.56 731.57 753.32 736.5 752.23 C741.43 751.14 745.8 749.9 749.64 748.95 C753.47 747.99 756.75 746.95 759.49 746.48 C762.22 746.02 763.32 746.62 766.06 746.15 C768.79 745.69 772.08 744.73 775.91 743.69 C779.74 742.65 784.67 740.95 789.04 739.91 C793.42 738.87 798.35 738.05 802.18 737.45 C806.01 736.85 809.02 736.58 812.03 736.3 C815.04 736.03 818.05 735.81 820.24 735.81 C822.43 735.81 823.25 735.7 825.17 736.3 C827.08 736.9 829 738.14 831.74 739.42 C834.47 740.71 838.85 742.76 841.59 744.02 C844.33 745.28 845.42 745.83 848.16 746.98 C850.89 748.12 854.73 749.49 858.01 750.92 C861.29 752.34 864.58 753.87 867.86 755.51 C871.15 757.16 875.02 759.45 877.71 760.77 C880.4 762.08 881.31 762.08 884 763.4 C886.69 764.71 890.29 767.15 893.85 768.65 C897.41 770.16 901.52 771.69 905.35 772.43 C909.18 773.17 912.74 772.89 916.84 773.08 C920.95 773.28 925.05 773.08 929.98 773.58 C934.9 774.07 940.92 775.36 946.4 776.04 C951.87 776.72 957.89 777 962.82 777.68 C967.74 778.37 972.12 779.32 975.95 780.14 C979.79 780.97 982.52 781.32 985.81 782.61 C989.09 783.89 992.37 786.22 995.66 787.86 C998.94 789.5 1001.68 791.09 1005.51 792.46 C1009.34 793.83 1014.27 794.98 1018.65 796.07 C1023.03 797.17 1027.4 798.18 1031.78 799.03 C1036.16 799.88 1040.54 800.56 1044.92 801.16 C1049.3 801.76 1054.5 802.28 1058.06 802.64 C1061.61 803 1062.98 803.41 1066.27 803.3 C1069.55 803.19 1073.66 802.37 1077.76 801.98 C1081.87 801.6 1086.24 801.22 1090.9 801 C1095.55 800.78 1100.48 800.92 1105.67 800.67 C1110.87 800.42 1116.62 799.79 1122.1 799.52 C1127.57 799.25 1133.04 799.25 1138.52 799.03 C1143.99 798.81 1149.46 798.54 1154.94 798.21 C1160.41 797.88 1167.85 797.33 1171.36 797.06 C1174.87 796.78 1173.04 797.14 1176 796.56 C1178.96 795.99 1184.21 794.43 1189.14 793.61 C1194.06 792.79 1200.08 792.79 1205.56 791.64 C1211.03 790.49 1216.5 788 1221.98 786.71 C1227.45 785.43 1232.92 785.07 1238.4 783.92 C1243.87 782.77 1250.44 780.66 1254.82 779.82 C1259.2 778.97 1260.84 778.83 1264.67 778.83 C1268.5 778.83 1273.43 779.32 1277.81 779.82 C1282.19 780.31 1287.11 781.32 1290.94 781.79 C1294.77 782.25 1297.24 782.55 1300.79 782.61 C1304.35 782.66 1309 781.92 1312.29 782.11 C1315.57 782.31 1316.94 782.99 1320.5 783.76 C1324.06 784.52 1329.8 785.67 1333.64 786.71 C1337.47 787.75 1339.66 788.96 1343.49 790 C1347.32 791.04 1351.7 791.86 1356.62 792.95 C1361.55 794.05 1368.67 795.14 1373.04 796.56 C1377.42 797.99 1379.61 799.9 1382.9 801.49 C1386.18 803.08 1389.46 804.86 1392.75 806.09 C1396.03 807.32 1399.59 808.09 1402.6 808.88 C1405.61 809.67 1409.44 810.52 1410.81 810.85" fill="none" stroke="#f7e43e" stroke-width="1.2" stroke-linejoin="round" stroke-linecap="round"/>
<path d="M11.1 751.74 L17.1 747.3 L23.1 743.69 L29.1 742.87 L35.1 738.27 L40.1 742.38 L46.1 741.23 L52.1 737.45 L58.1 733.02 L64.1 728.42 L70.1 740.74 L76.1 737.78 L81.1 736.3 L87.1 731.7 L93.1 730.39 L99.1 729.24 L105.1 750.92 L111.1 752.72 L117.1 742.71 L122.1 761.26 L128.1 760.11 L134.1 761.59 L140.1 757.16 L146.1 765.37 L152.1 789.18 L158.1 774.89 L163.1 774.4 L169.1 772.26 L175.1 768.65 L181.1 773.08 L187.1 780.47 L193.1 776.86 L199.1 783.43 L204.1 782.11 L210.1 777.68 L216.1 771.61 L222.1 771.11 L228.1 766.68 L234.1 764.55 L240.1 764.22 L245.1 758.8 L251.1 748.45 L257.1 749.44 L263.1 745.33 L269.1 767.5 L275.1 764.22 L281.1 759.62 L286.1 755.19 L292.1 769.8 L298.1 764.87 L304.1 775.22 L310.1 771.93 L316.1 775.22 L322.1 766.19 L328.1 757.48 L333.1 755.51 L339.1 753.05 L345.1 753.87 L351.1 748.12 L357.1 752.56 L363.1 750.1 L369.1 757.98 L374.1 760.11 L380.1 761.26 L386.1 764.87 L392.1 756.33 L398.1 762.9 L404.1 784.25 L410.1 776.86 L415.1 785.4 L421.1 792.46 L427.1 799.85 L433.1 787.04 L439.1 791.15 L445.1 778.83 L451.1 776.86 L456.1 788.35 L462.1 784.58 L468.1 789.67 L474.1 785.89 L480.1 783.1 L486.1 785.07 L492.1 794.92 L497.1 795.25 L503.1 792.46 L509.1 794.92 L515.1 806.09 L521.1 807.57 L527.1 803.13 L533.1 805.6 L538.1 793.28 L544.1 791.31 L550.1 791.31 L556.1 782.61 L562.1 787.04 L568.1 794.59 L574.1 790.82 L579.1 786.38 L585.1 788.35 L591.1 791.97 L597.1 790.49 L603.1 790.82 L609.1 782.11 L615.1 777.68 L620.1 769.14 L626.1 767.01 L632.1 767.5 L638.1 760.11 L644.1 763.4 L650.1 755.02 L656.1 751.41 L661.1 751.9 L667.1 753.87 L673.1 749.77 L679.1 746.98 L685.1 754.69 L691.1 762.08 L697.1 763.72 L702.1 767.34 L708.1 759.62 L714.1 757.65 L720.1 747.3 L726.1 745.33 L732.1 739.09 L738.1 737.78 L743.1 731.38 L749.1 727.6 L755.1 727.6 L761.1 724.81 L767.1 753.54 L773.1 744.84 L779.1 741.56 L785.1 739.59 L790.1 737.78 L796.1 737.45 L802.1 733.35 L808.1 733.35 L814.1 730.06 L820.1 732.03 L826.1 743.2 L831.1 770.62 L837.1 762.08 L843.1 771.11 L849.1 789.67 L855.1 774.73 L861.1 778.01 L867.1 780.97 L872.1 779.32 L878.1 772.76 L884.1 768.32 L890.1 767.5 L896.1 771.11 L902.1 767.83 L908.1 766.52 L913.1 769.47 L919.1 764.22 L925.1 777.68 L931.1 791.31 L937.1 792.46 L943.1 787.53 L949.1 790.49 L954.1 785.07 L960.1 782.28 L966.1 777.19 L972.1 786.71 L978.1 785.4 L984.1 786.71 L990.1 805.6 L995.1 819.06 L1001.1 806.09 L1007.1 810.03 L1013.1 811.34 L1019.1 814.3 L1025.1 807.24 L1031.1 806.09 L1036.1 794.59 L1042.1 795.74 L1048.1 789.67 L1054.1 790.82 L1060.1 796.89 L1066.1 797.39 L1072.1 801.49 L1077.1 800.18 L1083.1 801.98 L1089.1 802.31 L1095.1 811.84 L1101.1 810.03 L1107.1 805.6 L1113.1 793.61 L1118.1 790.82 L1124.1 788.85 L1130.1 790.33 L1136.1 796.24 L1142.1 799.03 L1148.1 789.18 L1154.1 796.24 L1159.1 796.56 L1165.1 796.89 L1171.1 795.42 L1177.1 803.46 L1183.1 785.89 L1189.1 787.86 L1195.1 780.14 L1200.1 780.14 L1206.1 787.53 L1212.1 769.14 L1218.1 769.47 L1224.1 773.9 L1230.1 779.32 L1236.1 780.64 L1241.1 777.19 L1247.1 781.79 L1253.1 775.55 L1259.1 779.82 L1265.1 783.1 L1271.1 790.33 L1277.1 791.31 L1283.1 789.18 L1288.1 791.64 L1294.1 786.38 L1300.1 773.9 L1306.1 769.96 L1312.1 773.9 L1318.1 792.46 L1324.1 798.54 L1329.1 795.25 L1335.1 802.31 L1341.1 812.16 L1347.1 799.52 L1353.1 807.73 L1359.1 811.01 L1365.1 807.73 L1370.1 803.46 L1376.1 811.67 L1382.1 819.06 L1388.1 815.12 L1394.1 815.45 L1400.1 815.94 L1406.1 815.94 L1411.1 812.99" fill="none" stroke="#7e57c2" stroke-width="1.2" stroke-linejoin="round" stroke-linecap="round"/>
</g>
<rect x="10" y="712" width="1807" height="1" fill="#d9dcea" shape-rendering="crispEdges"/>
<g clip-path="url(#cs)">
<text x="1756" y="91.1" font-size="12" fill="#131722" stroke="#131722" stroke-width="0.28" textLength="19.3" lengthAdjust="spacingAndGlyphs">825</text>
<text x="1777" y="91.1" font-size="12" fill="#131722" stroke="#131722" stroke-width="0.28" textLength="6.6" lengthAdjust="spacingAndGlyphs">B</text>
<text x="1756" y="132.24" font-size="12" fill="#131722" stroke="#131722" stroke-width="0.28" textLength="19.3" lengthAdjust="spacingAndGlyphs">785</text>
<text x="1777" y="132.24" font-size="12" fill="#131722" stroke="#131722" stroke-width="0.28" textLength="6.6" lengthAdjust="spacingAndGlyphs">B</text>
<text x="1756" y="175.53" font-size="12" fill="#131722" stroke="#131722" stroke-width="0.28" textLength="19.3" lengthAdjust="spacingAndGlyphs">745</text>
<text x="1777" y="175.53" font-size="12" fill="#131722" stroke="#131722" stroke-width="0.28" textLength="6.6" lengthAdjust="spacingAndGlyphs">B</text>
<text x="1756" y="221.22" font-size="12" fill="#131722" stroke="#131722" stroke-width="0.28" textLength="19.3" lengthAdjust="spacingAndGlyphs">705</text>
<text x="1777" y="221.22" font-size="12" fill="#131722" stroke="#131722" stroke-width="0.28" textLength="6.6" lengthAdjust="spacingAndGlyphs">B</text>
<text x="1756" y="269.57" font-size="12" fill="#131722" stroke="#131722" stroke-width="0.28" textLength="19.3" lengthAdjust="spacingAndGlyphs">665</text>
<text x="1777" y="269.57" font-size="12" fill="#131722" stroke="#131722" stroke-width="0.28" textLength="6.6" lengthAdjust="spacingAndGlyphs">B</text>
<text x="1756" y="320.92" font-size="12" fill="#131722" stroke="#131722" stroke-width="0.28" textLength="19.3" lengthAdjust="spacingAndGlyphs">625</text>
<text x="1777" y="320.92" font-size="12" fill="#131722" stroke="#131722" stroke-width="0.28" textLength="6.6" lengthAdjust="spacingAndGlyphs">B</text>
<text x="1756" y="375.67" font-size="12" fill="#131722" stroke="#131722" stroke-width="0.28" textLength="19.3" lengthAdjust="spacingAndGlyphs">585</text>
<text x="1777" y="375.67" font-size="12" fill="#131722" stroke="#131722" stroke-width="0.28" textLength="6.6" lengthAdjust="spacingAndGlyphs">B</text>
<text x="1756" y="419.25" font-size="12" fill="#131722" stroke="#131722" stroke-width="0.28" textLength="19.3" lengthAdjust="spacingAndGlyphs">555</text>
<text x="1777" y="419.25" font-size="12" fill="#131722" stroke="#131722" stroke-width="0.28" textLength="6.6" lengthAdjust="spacingAndGlyphs">B</text>
<text x="1756" y="449.63" font-size="12" fill="#131722" stroke="#131722" stroke-width="0.28" textLength="19.3" lengthAdjust="spacingAndGlyphs">535</text>
<text x="1777" y="449.63" font-size="12" fill="#131722" stroke="#131722" stroke-width="0.28" textLength="6.6" lengthAdjust="spacingAndGlyphs">B</text>
<text x="1756" y="481.17" font-size="12" fill="#131722" stroke="#131722" stroke-width="0.28" textLength="19.3" lengthAdjust="spacingAndGlyphs">515</text>
<text x="1777" y="481.17" font-size="12" fill="#131722" stroke="#131722" stroke-width="0.28" textLength="6.6" lengthAdjust="spacingAndGlyphs">B</text>
<text x="1756" y="513.96" font-size="12" fill="#131722" stroke="#131722" stroke-width="0.28" textLength="19.3" lengthAdjust="spacingAndGlyphs">495</text>
<text x="1777" y="513.96" font-size="12" fill="#131722" stroke="#131722" stroke-width="0.28" textLength="6.6" lengthAdjust="spacingAndGlyphs">B</text>
<text x="1756" y="548.1" font-size="12" fill="#131722" stroke="#131722" stroke-width="0.28" textLength="19.3" lengthAdjust="spacingAndGlyphs">475</text>
<text x="1777" y="548.1" font-size="12" fill="#131722" stroke="#131722" stroke-width="0.28" textLength="6.6" lengthAdjust="spacingAndGlyphs">B</text>
<text x="1756" y="583.71" font-size="12" fill="#131722" stroke="#131722" stroke-width="0.28" textLength="19.3" lengthAdjust="spacingAndGlyphs">455</text>
<text x="1777" y="583.71" font-size="12" fill="#131722" stroke="#131722" stroke-width="0.28" textLength="6.6" lengthAdjust="spacingAndGlyphs">B</text>
<text x="1756" y="620.92" font-size="12" fill="#131722" stroke="#131722" stroke-width="0.28" textLength="19.3" lengthAdjust="spacingAndGlyphs">435</text>
<text x="1777" y="620.92" font-size="12" fill="#131722" stroke="#131722" stroke-width="0.28" textLength="6.6" lengthAdjust="spacingAndGlyphs">B</text>
<text x="1756" y="654.91" font-size="12" fill="#131722" stroke="#131722" stroke-width="0.28" textLength="28.8" lengthAdjust="spacingAndGlyphs">417.5</text>
<text x="1786.5" y="654.91" font-size="12" fill="#131722" stroke="#131722" stroke-width="0.28" textLength="6.6" lengthAdjust="spacingAndGlyphs">B</text>
<text x="1756" y="687.26" font-size="12" fill="#131722" stroke="#131722" stroke-width="0.28" textLength="28.8" lengthAdjust="spacingAndGlyphs">401.5</text>
<text x="1786.5" y="687.26" font-size="12" fill="#131722" stroke="#131722" stroke-width="0.28" textLength="6.6" lengthAdjust="spacingAndGlyphs">B</text>
<rect x="1747" y="305" width="65" height="17" fill="#131722" rx="2"/>
<rect x="1747" y="305" width="4" height="17" fill="#131722"/>
<text x="1756" y="317.8" font-size="12" fill="#fff" stroke="#fff" stroke-width="0" font-weight="bold" textLength="41.6" lengthAdjust="spacingAndGlyphs">627.945</text>
<text x="1799.2" y="317.8" font-size="12" fill="#fff" stroke="#fff" stroke-width="0" font-weight="bold" textLength="7.6" lengthAdjust="spacingAndGlyphs">B</text>
<rect x="1747" y="341" width="65" height="17" fill="#089981" rx="2"/>
<rect x="1747" y="341" width="4" height="17" fill="#089981"/>
<text x="1756" y="353.8" font-size="12" fill="#fff" stroke="#fff" stroke-width="0" font-weight="bold" textLength="41.6" lengthAdjust="spacingAndGlyphs">600.618</text>
<text x="1799.2" y="353.8" font-size="12" fill="#fff" stroke="#fff" stroke-width="0" font-weight="bold" textLength="7.6" lengthAdjust="spacingAndGlyphs">B</text>
<rect x="1747" y="358" width="65" height="17" fill="#f7000b" rx="2"/>
<rect x="1747" y="358" width="4" height="17" fill="#f7000b"/>
<text x="1756" y="370.8" font-size="12" fill="#fff" stroke="#fff" stroke-width="0" font-weight="bold" textLength="41.6" lengthAdjust="spacingAndGlyphs">596.278</text>
<text x="1799.2" y="370.8" font-size="12" fill="#fff" stroke="#fff" stroke-width="0" font-weight="bold" textLength="7.6" lengthAdjust="spacingAndGlyphs">B</text>
<rect x="1747" y="683" width="59" height="18" fill="#26a69a" rx="2"/>
<rect x="1747" y="683" width="4" height="18" fill="#26a69a"/>
<text x="1756" y="696.3" font-size="12" fill="#fff" stroke="#fff" stroke-width="0" font-weight="bold" textLength="35" lengthAdjust="spacingAndGlyphs">76.503</text>
<text x="1792.6" y="696.3" font-size="12" fill="#fff" stroke="#fff" stroke-width="0" font-weight="bold" textLength="7.6" lengthAdjust="spacingAndGlyphs">B</text>
<rect x="1747" y="700" width="59" height="18" fill="#26a69a" rx="2"/>
<rect x="1747" y="700" width="4" height="18" fill="#26a69a"/>
<text x="1756" y="713.3" font-size="12" fill="#fff" stroke="#fff" stroke-width="0" font-weight="bold" textLength="35" lengthAdjust="spacingAndGlyphs">76.503</text>
<text x="1792.6" y="713.3" font-size="12" fill="#fff" stroke="#fff" stroke-width="0" font-weight="bold" textLength="7.6" lengthAdjust="spacingAndGlyphs">B</text>
</g>
<rect x="1751.2" y="31.4" width="62" height="25.6" rx="3.5" fill="#fff" stroke="#e0e3eb"/>
<text x="1760.5" y="49.3" font-size="12" fill="#131722" stroke="#131722" stroke-width="0.28" textLength="20" lengthAdjust="spacingAndGlyphs">USD</text>
<g clip-path="url(#cs2)">
<text x="1756" y="746.3" font-size="12" fill="#131722" stroke="#131722" stroke-width="0.28" textLength="29" lengthAdjust="spacingAndGlyphs">80.00</text>
<rect x="1747" y="762" width="44" height="17" fill="#fff" rx="2"/>
<rect x="1747" y="762" width="4" height="17" fill="#fff"/>
<text x="1756" y="774.8" font-size="12" fill="#131722" stroke="#131722" stroke-width="0.28" textLength="29.5" lengthAdjust="spacingAndGlyphs">62.35</text>
<rect x="1747" y="788" width="44" height="17" fill="#ffeb3b" rx="2"/>
<rect x="1747" y="788" width="4" height="17" fill="#ffeb3b"/>
<text x="1756" y="800.8" font-size="12" fill="#131722" stroke="#131722" stroke-width="0.28" textLength="29.5" lengthAdjust="spacingAndGlyphs">37.17</text>
<rect x="1747" y="805" width="44" height="17" fill="#7e57c2" rx="2"/>
<rect x="1747" y="805" width="4" height="17" fill="#7e57c2"/>
<text x="1756" y="817.8" font-size="12" fill="#fff" stroke="#fff" stroke-width="0" font-weight="bold" textLength="29.5" lengthAdjust="spacingAndGlyphs">35.94</text>
<rect x="1747" y="822" width="44" height="17" fill="#fff" rx="2"/>
<rect x="1747" y="822" width="4" height="17" fill="#fff"/>
<text x="1756" y="834.8" font-size="12" fill="#131722" stroke="#131722" stroke-width="0.28" textLength="29.5" lengthAdjust="spacingAndGlyphs">32.10</text>
</g>
<text x="23.55" y="851" font-size="12" fill="#131722" stroke="#131722" stroke-width="0.28" textLength="12.4" lengthAdjust="spacingAndGlyphs">11</text>
<text class="k" x="35.75" y="851.8" font-size="13" fill="#131722">월</text>
<text x="111.3" y="851" font-size="12" fill="#131722" stroke="#131722" stroke-width="0.28" textLength="12.4" lengthAdjust="spacingAndGlyphs">15</text>
<text x="198.55" y="851" font-size="12" fill="#131722" stroke="#131722" stroke-width="0.28" textLength="12.4" lengthAdjust="spacingAndGlyphs">12</text>
<text class="k" x="210.75" y="851.8" font-size="13" fill="#131722">월</text>
<text x="304.3" y="851" font-size="12" fill="#131722" stroke="#131722" stroke-width="0.28" textLength="12.4" lengthAdjust="spacingAndGlyphs">18</text>
<text x="378.8" y="851" font-size="12" fill="#131722" stroke="#131722" stroke-width="0" font-weight="bold" textLength="27.4" lengthAdjust="spacingAndGlyphs">2024</text>
<text x="468.3" y="851" font-size="12" fill="#131722" stroke="#131722" stroke-width="0.28" textLength="12.4" lengthAdjust="spacingAndGlyphs">15</text>
<text x="565.65" y="851" font-size="12" fill="#131722" stroke="#131722" stroke-width="0.28" textLength="6.2" lengthAdjust="spacingAndGlyphs">2</text>
<text class="k" x="571.65" y="851.8" font-size="13" fill="#131722">월</text>
<text x="650.3" y="851" font-size="12" fill="#131722" stroke="#131722" stroke-width="0.28" textLength="12.4" lengthAdjust="spacingAndGlyphs">15</text>
<text x="734.65" y="851" font-size="12" fill="#131722" stroke="#131722" stroke-width="0.28" textLength="6.2" lengthAdjust="spacingAndGlyphs">3</text>
<text class="k" x="740.65" y="851.8" font-size="13" fill="#131722">월</text>
<text x="837.3" y="851" font-size="12" fill="#131722" stroke="#131722" stroke-width="0.28" textLength="12.4" lengthAdjust="spacingAndGlyphs">18</text>
<text x="916.65" y="851" font-size="12" fill="#131722" stroke="#131722" stroke-width="0.28" textLength="6.2" lengthAdjust="spacingAndGlyphs">4</text>
<text class="k" x="922.65" y="851.8" font-size="13" fill="#131722">월</text>
<text x="1001.3" y="851" font-size="12" fill="#131722" stroke="#131722" stroke-width="0.28" textLength="12.4" lengthAdjust="spacingAndGlyphs">15</text>
<text x="1092.65" y="851" font-size="12" fill="#131722" stroke="#131722" stroke-width="0.28" textLength="6.2" lengthAdjust="spacingAndGlyphs">5</text>
<text class="k" x="1098.65" y="851.8" font-size="13" fill="#131722">월</text>
<text x="1177.3" y="851" font-size="12" fill="#131722" stroke="#131722" stroke-width="0.28" textLength="12.4" lengthAdjust="spacingAndGlyphs">15</text>
<text x="1274.65" y="851" font-size="12" fill="#131722" stroke="#131722" stroke-width="0.28" textLength="6.2" lengthAdjust="spacingAndGlyphs">6</text>
<text class="k" x="1280.65" y="851.8" font-size="13" fill="#131722">월</text>
<text x="1370.3" y="851" font-size="12" fill="#131722" stroke="#131722" stroke-width="0.28" textLength="12.4" lengthAdjust="spacingAndGlyphs">17</text>
<text x="1449.65" y="851" font-size="12" fill="#131722" stroke="#131722" stroke-width="0.28" textLength="6.2" lengthAdjust="spacingAndGlyphs">7</text>
<text class="k" x="1455.65" y="851.8" font-size="13" fill="#131722">월</text>
<text x="1534.3" y="851" font-size="12" fill="#131722" stroke="#131722" stroke-width="0.28" textLength="12.4" lengthAdjust="spacingAndGlyphs">15</text>
<text x="1631.65" y="851" font-size="12" fill="#131722" stroke="#131722" stroke-width="0.28" textLength="6.2" lengthAdjust="spacingAndGlyphs">8</text>
<text class="k" x="1637.65" y="851.8" font-size="13" fill="#131722">월</text>
<text x="1716.3" y="851" font-size="12" fill="#131722" stroke="#131722" stroke-width="0.28" textLength="12.4" lengthAdjust="spacingAndGlyphs">15</text>
<text x="10.1" y="19" font-size="12" fill="#131722" stroke="#131722" stroke-width="0.28" textLength="95.1" lengthAdjust="spacingAndGlyphs">Coin_life_Balance</text>
<text class="k" x="109.6" y="19.6" font-size="13" fill="#131722">이</text>
<text x="125.4" y="19" font-size="12" fill="#131722" stroke="#131722" stroke-width="0.28" textLength="93.6" lengthAdjust="spacingAndGlyphs">TradingView.com,</text>
<text x="224" y="19" font-size="12" fill="#131722" stroke="#131722" stroke-width="0.28" textLength="6.3" lengthAdjust="spacingAndGlyphs">6</text>
<text class="k" x="230.2" y="19.6" font-size="13" fill="#131722">월</text>
<text x="246.2" y="19" font-size="12" fill="#131722" stroke="#131722" stroke-width="0.28" textLength="14.4" lengthAdjust="spacingAndGlyphs">23,</text>
<text x="266.4" y="19" font-size="12" fill="#131722" stroke="#131722" stroke-width="0.28" textLength="25.6" lengthAdjust="spacingAndGlyphs">2024</text>
<text x="296.6" y="19" font-size="12" fill="#131722" stroke="#131722" stroke-width="0.28" textLength="26.9" lengthAdjust="spacingAndGlyphs">17:57</text>
<text x="328.5" y="19" font-size="12" fill="#131722" stroke="#131722" stroke-width="0.28" textLength="34" lengthAdjust="spacingAndGlyphs">UTC+9</text>
<text class="k" x="366.3" y="19.6" font-size="13" fill="#131722">에</text>
<text class="k" x="381.2" y="19.6" font-size="13" fill="#131722" textLength="73.2" lengthAdjust="spacing">퍼블리쉬했음</text>
<text x="18.2" y="45.6" font-size="12" fill="#131722" stroke="#131722" stroke-width="0.28" textLength="35.2" lengthAdjust="spacingAndGlyphs">Crypto</text>
<text x="58.5" y="45.6" font-size="12" fill="#131722" stroke="#131722" stroke-width="0.28" textLength="24.5" lengthAdjust="spacingAndGlyphs">Total</text>
<text x="87.8" y="45.6" font-size="12" fill="#131722" stroke="#131722" stroke-width="0.28" textLength="36.1" lengthAdjust="spacingAndGlyphs">Market</text>
<text x="128.3" y="45.6" font-size="12" fill="#131722" stroke="#131722" stroke-width="0.28" textLength="18.9" lengthAdjust="spacingAndGlyphs">Cap</text>
<text x="152" y="45.6" font-size="12" fill="#131722" stroke="#131722" stroke-width="0.28" textLength="50.4" lengthAdjust="spacingAndGlyphs">Excluding</text>
<text x="207" y="45.6" font-size="12" fill="#131722" stroke="#131722" stroke-width="0.28" textLength="18.9" lengthAdjust="spacingAndGlyphs">BTC</text>
<text x="231.5" y="45.6" font-size="12" fill="#131722" stroke="#131722" stroke-width="0.28" textLength="18.2" lengthAdjust="spacingAndGlyphs">and</text>
<text x="254.8" y="45.6" font-size="12" fill="#131722" stroke="#131722" stroke-width="0.28" textLength="23.9" lengthAdjust="spacingAndGlyphs">ETH,</text>
<text x="283.7" y="45.6" font-size="12" fill="#131722" stroke="#131722" stroke-width="0.28" textLength="9.5" lengthAdjust="spacingAndGlyphs">$,</text>
<text x="298.8" y="45.6" font-size="12" fill="#131722" stroke="#131722" stroke-width="0.28" textLength="5.5" lengthAdjust="spacingAndGlyphs">1</text>
<text x="316.5" y="45.6" font-size="12" fill="#131722" stroke="#131722" stroke-width="0.28" textLength="2.5" lengthAdjust="spacingAndGlyphs">,</text>
<text x="324" y="45.6" font-size="12" fill="#131722" stroke="#131722" stroke-width="0.28" textLength="61.1" lengthAdjust="spacingAndGlyphs">CRYPTOCAP</text>
<text class="k" x="304.6" y="46.1" font-size="12" fill="#131722">날</text>
<text class="k" x="393.2" y="46.1" font-size="12" fill="#131722">시</text>
<text x="405.9" y="45.6" font-size="12" fill="#089981" stroke="#089981" stroke-width="0.28" textLength="42.1" lengthAdjust="spacingAndGlyphs">596.484</text>
<text x="449.5" y="45.6" font-size="12" fill="#089981" stroke="#089981" stroke-width="0.28" textLength="6.5" lengthAdjust="spacingAndGlyphs">B</text>
<text class="k" x="464" y="46.1" font-size="12" fill="#131722">고</text>
<text x="476.2" y="45.6" font-size="12" fill="#089981" stroke="#089981" stroke-width="0.28" textLength="35.5" lengthAdjust="spacingAndGlyphs">603.11</text>
<text x="513.2" y="45.6" font-size="12" fill="#089981" stroke="#089981" stroke-width="0.28" textLength="6.5" lengthAdjust="spacingAndGlyphs">B</text>
<text class="k" x="528" y="46.1" font-size="12" fill="#131722">저</text>
<text x="539.9" y="45.6" font-size="12" fill="#089981" stroke="#089981" stroke-width="0.28" textLength="42.1" lengthAdjust="spacingAndGlyphs">595.036</text>
<text x="583.5" y="45.6" font-size="12" fill="#089981" stroke="#089981" stroke-width="0.28" textLength="6.5" lengthAdjust="spacingAndGlyphs">B</text>
<text class="k" x="598" y="46.1" font-size="12" fill="#131722">종</text>
<text x="609.9" y="45.6" font-size="12" fill="#089981" stroke="#089981" stroke-width="0.28" textLength="42.1" lengthAdjust="spacingAndGlyphs">600.618</text>
<text x="653.5" y="45.6" font-size="12" fill="#089981" stroke="#089981" stroke-width="0.28" textLength="6.5" lengthAdjust="spacingAndGlyphs">B</text>
<text x="667.8" y="45.6" font-size="12" fill="#089981" stroke="#089981" stroke-width="0.28" textLength="34.5" lengthAdjust="spacingAndGlyphs">+4.158</text>
<text x="704.3" y="45.6" font-size="12" fill="#089981" stroke="#089981" stroke-width="0.28" textLength="55.9" lengthAdjust="spacingAndGlyphs">B (+0.70%)</text>
<text class="k" x="769.3" y="46.1" font-size="12" fill="#131722" textLength="21.6" lengthAdjust="spacing">볼륨</text>
<text x="791.6" y="45.6" font-size="12" fill="#089981" stroke="#089981" stroke-width="0.28" textLength="36.3" lengthAdjust="spacingAndGlyphs">76.503</text>
<text x="830.2" y="45.6" font-size="12" fill="#089981" stroke="#089981" stroke-width="0.28" textLength="6.5" lengthAdjust="spacingAndGlyphs">B</text>
<rect x="10.5" y="27.5" width="1806" height="833" fill="none" stroke="rgba(120,130,170,0.22)" stroke-width="1"/>
<g transform="translate(9.9,873.2) scale(0.5472,0.5444)" fill="#131722"><path d="M14 18H7.2V6.8H0V0h14v18z"/><circle cx="20.8" cy="3.6" r="3.6"/><path d="M27.2 18h-7.6L27.6 0h8.4L27.2 18z"/></g>
<text x="33.2" y="883.05" font-size="12.9" fill="#3a3e49" stroke="#3a3e49" stroke-width="0" textLength="70.1" lengthAdjust="spacingAndGlyphs">TradingView</text>
</svg></body></html>
